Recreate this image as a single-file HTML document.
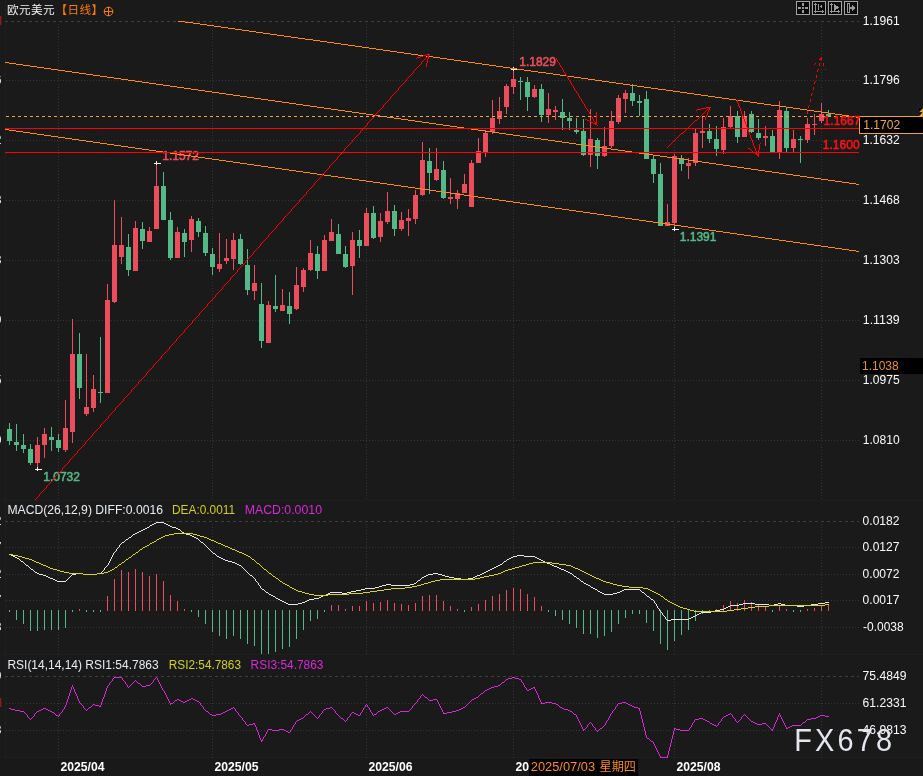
<!DOCTYPE html>
<html lang="zh"><head><meta charset="utf-8"><title>EURUSD</title>
<style>
html,body{margin:0;padding:0;background:#1a1a1a;}
body{width:923px;height:776px;overflow:hidden;position:relative;}
svg{position:absolute;left:0;top:0;display:block;}
text{font-family:"Liberation Sans", "Noto Sans CJK SC", sans-serif;font-size:12px;}
.b{font-weight:bold;}
.ce{shape-rendering:crispEdges;}
</style></head><body>
<svg width="923" height="776" viewBox="0 0 923 776">
<rect x="0" y="0" width="923" height="776" fill="#1a1a1a"/>
<rect x="5" y="0" width="1" height="758" fill="#1f1f1f"/>
<rect x="0" y="758" width="923" height="18" fill="#191919"/>
<rect x="0" y="500" width="923" height="1" fill="#1e1e1e"/>
<rect x="0" y="654" width="923" height="1" fill="#1e1e1e"/>
<rect x="0" y="757" width="923" height="1" fill="#1e1e1e"/>
<g class="ce" fill="none" stroke-width="1">
<line x1="5" y1="21.5" x2="859" y2="21.5" stroke="#3e3e3e" stroke-dasharray="3 3"/>
<line x1="6" y1="80.5" x2="859" y2="80.5" stroke="#353535" stroke-dasharray="1 2"/>
<line x1="6" y1="140.5" x2="859" y2="140.5" stroke="#353535" stroke-dasharray="1 2"/>
<line x1="6" y1="200.5" x2="859" y2="200.5" stroke="#353535" stroke-dasharray="1 2"/>
<line x1="6" y1="260.5" x2="859" y2="260.5" stroke="#353535" stroke-dasharray="1 2"/>
<line x1="6" y1="320.5" x2="859" y2="320.5" stroke="#353535" stroke-dasharray="1 2"/>
<line x1="6" y1="380.5" x2="859" y2="380.5" stroke="#353535" stroke-dasharray="1 2"/>
<line x1="6" y1="440.5" x2="859" y2="440.5" stroke="#353535" stroke-dasharray="1 2"/>
<line x1="5" y1="521.5" x2="859" y2="521.5" stroke="#3e3e3e" stroke-dasharray="3 3"/>
<line x1="6" y1="547.5" x2="859" y2="547.5" stroke="#353535" stroke-dasharray="1 2"/>
<line x1="6" y1="574.5" x2="859" y2="574.5" stroke="#353535" stroke-dasharray="1 2"/>
<line x1="6" y1="600.5" x2="859" y2="600.5" stroke="#353535" stroke-dasharray="1 2"/>
<line x1="6" y1="627.5" x2="859" y2="627.5" stroke="#353535" stroke-dasharray="1 2"/>
<line x1="5" y1="676.5" x2="859" y2="676.5" stroke="#3e3e3e" stroke-dasharray="3 3"/>
<line x1="6" y1="703.5" x2="859" y2="703.5" stroke="#353535" stroke-dasharray="1 2"/>
<line x1="6" y1="730.5" x2="859" y2="730.5" stroke="#353535" stroke-dasharray="1 2"/>
<line x1="58.5" y1="24" x2="58.5" y2="500" stroke="#353535" stroke-dasharray="1 2"/>
<line x1="58.5" y1="524" x2="58.5" y2="654" stroke="#353535" stroke-dasharray="1 2"/>
<line x1="58.5" y1="679" x2="58.5" y2="758" stroke="#353535" stroke-dasharray="1 2"/>
<line x1="212.5" y1="24" x2="212.5" y2="500" stroke="#353535" stroke-dasharray="1 2"/>
<line x1="212.5" y1="524" x2="212.5" y2="654" stroke="#353535" stroke-dasharray="1 2"/>
<line x1="212.5" y1="679" x2="212.5" y2="758" stroke="#353535" stroke-dasharray="1 2"/>
<line x1="366.5" y1="24" x2="366.5" y2="500" stroke="#353535" stroke-dasharray="1 2"/>
<line x1="366.5" y1="524" x2="366.5" y2="654" stroke="#353535" stroke-dasharray="1 2"/>
<line x1="366.5" y1="679" x2="366.5" y2="758" stroke="#353535" stroke-dasharray="1 2"/>
<line x1="513.5" y1="24" x2="513.5" y2="500" stroke="#353535" stroke-dasharray="1 2"/>
<line x1="513.5" y1="524" x2="513.5" y2="654" stroke="#353535" stroke-dasharray="1 2"/>
<line x1="513.5" y1="679" x2="513.5" y2="758" stroke="#353535" stroke-dasharray="1 2"/>
<line x1="674.5" y1="24" x2="674.5" y2="500" stroke="#353535" stroke-dasharray="1 2"/>
<line x1="674.5" y1="524" x2="674.5" y2="654" stroke="#353535" stroke-dasharray="1 2"/>
<line x1="674.5" y1="679" x2="674.5" y2="758" stroke="#353535" stroke-dasharray="1 2"/>
<line x1="821.5" y1="24" x2="821.5" y2="500" stroke="#353535" stroke-dasharray="1 2"/>
<line x1="821.5" y1="524" x2="821.5" y2="654" stroke="#353535" stroke-dasharray="1 2"/>
<line x1="821.5" y1="679" x2="821.5" y2="758" stroke="#353535" stroke-dasharray="1 2"/>
</g>
<g class="ce">
<rect x="9" y="423" width="1" height="22" fill="#53b987"/>
<rect x="7" y="429" width="5" height="12" fill="#53b987"/>
<rect x="16" y="424" width="1" height="27" fill="#53b987"/>
<rect x="14" y="442" width="5" height="3" fill="#53b987"/>
<rect x="23" y="434" width="1" height="19" fill="#53b987"/>
<rect x="21" y="445" width="5" height="4" fill="#53b987"/>
<rect x="30" y="444" width="1" height="21" fill="#53b987"/>
<rect x="28" y="449" width="5" height="14" fill="#53b987"/>
<rect x="37" y="437" width="1" height="33" fill="#eb4d5c"/>
<rect x="35" y="445" width="5" height="18" fill="#eb4d5c"/>
<rect x="44" y="428" width="1" height="30" fill="#eb4d5c"/>
<rect x="42" y="434" width="5" height="11" fill="#eb4d5c"/>
<rect x="51" y="427" width="1" height="24" fill="#53b987"/>
<rect x="49" y="437" width="5" height="3" fill="#53b987"/>
<rect x="58" y="434" width="1" height="18" fill="#53b987"/>
<rect x="56" y="440" width="5" height="8" fill="#53b987"/>
<rect x="65" y="400" width="1" height="52" fill="#eb4d5c"/>
<rect x="63" y="428" width="5" height="22" fill="#eb4d5c"/>
<rect x="72" y="319" width="1" height="124" fill="#eb4d5c"/>
<rect x="70" y="354" width="5" height="78" fill="#eb4d5c"/>
<rect x="79" y="333" width="1" height="66" fill="#53b987"/>
<rect x="77" y="354" width="5" height="34" fill="#53b987"/>
<rect x="86" y="354" width="1" height="62" fill="#eb4d5c"/>
<rect x="84" y="407" width="5" height="7" fill="#eb4d5c"/>
<rect x="93" y="375" width="1" height="37" fill="#eb4d5c"/>
<rect x="91" y="389" width="5" height="19" fill="#eb4d5c"/>
<rect x="100" y="337" width="1" height="66" fill="#53b987"/>
<rect x="98" y="392" width="5" height="1" fill="#53b987"/>
<rect x="107" y="284" width="1" height="109" fill="#eb4d5c"/>
<rect x="105" y="300" width="5" height="93" fill="#eb4d5c"/>
<rect x="114" y="200" width="1" height="103" fill="#eb4d5c"/>
<rect x="112" y="245" width="5" height="57" fill="#eb4d5c"/>
<rect x="121" y="217" width="1" height="47" fill="#eb4d5c"/>
<rect x="119" y="245" width="5" height="12" fill="#eb4d5c"/>
<rect x="128" y="234" width="1" height="42" fill="#53b987"/>
<rect x="126" y="247" width="5" height="23" fill="#53b987"/>
<rect x="135" y="221" width="1" height="50" fill="#eb4d5c"/>
<rect x="133" y="228" width="5" height="43" fill="#eb4d5c"/>
<rect x="142" y="222" width="1" height="27" fill="#53b987"/>
<rect x="140" y="229" width="5" height="12" fill="#53b987"/>
<rect x="149" y="227" width="1" height="15" fill="#eb4d5c"/>
<rect x="147" y="231" width="5" height="11" fill="#eb4d5c"/>
<rect x="156" y="164" width="1" height="65" fill="#eb4d5c"/>
<rect x="154" y="186" width="5" height="43" fill="#eb4d5c"/>
<rect x="163" y="172" width="1" height="48" fill="#53b987"/>
<rect x="161" y="186" width="5" height="34" fill="#53b987"/>
<rect x="170" y="212" width="1" height="48" fill="#53b987"/>
<rect x="168" y="220" width="5" height="38" fill="#53b987"/>
<rect x="177" y="227" width="1" height="31" fill="#eb4d5c"/>
<rect x="175" y="232" width="5" height="26" fill="#eb4d5c"/>
<rect x="184" y="229" width="1" height="28" fill="#53b987"/>
<rect x="182" y="233" width="5" height="9" fill="#53b987"/>
<rect x="191" y="216" width="1" height="36" fill="#eb4d5c"/>
<rect x="189" y="219" width="5" height="21" fill="#eb4d5c"/>
<rect x="198" y="218" width="1" height="19" fill="#53b987"/>
<rect x="196" y="221" width="5" height="11" fill="#53b987"/>
<rect x="205" y="226" width="1" height="30" fill="#53b987"/>
<rect x="203" y="233" width="5" height="20" fill="#53b987"/>
<rect x="212" y="248" width="1" height="27" fill="#53b987"/>
<rect x="210" y="254" width="5" height="13" fill="#53b987"/>
<rect x="219" y="233" width="1" height="39" fill="#eb4d5c"/>
<rect x="217" y="264" width="5" height="5" fill="#eb4d5c"/>
<rect x="226" y="239" width="1" height="25" fill="#eb4d5c"/>
<rect x="224" y="258" width="5" height="3" fill="#eb4d5c"/>
<rect x="233" y="233" width="1" height="37" fill="#eb4d5c"/>
<rect x="231" y="240" width="5" height="19" fill="#eb4d5c"/>
<rect x="240" y="234" width="1" height="31" fill="#53b987"/>
<rect x="238" y="239" width="5" height="25" fill="#53b987"/>
<rect x="247" y="249" width="1" height="46" fill="#53b987"/>
<rect x="245" y="265" width="5" height="25" fill="#53b987"/>
<rect x="254" y="265" width="1" height="35" fill="#eb4d5c"/>
<rect x="252" y="283" width="5" height="8" fill="#eb4d5c"/>
<rect x="261" y="283" width="1" height="65" fill="#53b987"/>
<rect x="259" y="304" width="5" height="37" fill="#53b987"/>
<rect x="268" y="301" width="1" height="42" fill="#eb4d5c"/>
<rect x="266" y="305" width="5" height="38" fill="#eb4d5c"/>
<rect x="275" y="275" width="1" height="37" fill="#53b987"/>
<rect x="273" y="306" width="5" height="3" fill="#53b987"/>
<rect x="282" y="289" width="1" height="22" fill="#eb4d5c"/>
<rect x="280" y="305" width="5" height="6" fill="#eb4d5c"/>
<rect x="289" y="292" width="1" height="32" fill="#53b987"/>
<rect x="287" y="306" width="5" height="8" fill="#53b987"/>
<rect x="296" y="267" width="1" height="43" fill="#eb4d5c"/>
<rect x="294" y="285" width="5" height="24" fill="#eb4d5c"/>
<rect x="303" y="268" width="1" height="24" fill="#eb4d5c"/>
<rect x="301" y="270" width="5" height="17" fill="#eb4d5c"/>
<rect x="310" y="240" width="1" height="31" fill="#eb4d5c"/>
<rect x="308" y="253" width="5" height="17" fill="#eb4d5c"/>
<rect x="317" y="246" width="1" height="33" fill="#53b987"/>
<rect x="315" y="254" width="5" height="17" fill="#53b987"/>
<rect x="324" y="235" width="1" height="36" fill="#eb4d5c"/>
<rect x="322" y="240" width="5" height="31" fill="#eb4d5c"/>
<rect x="331" y="219" width="1" height="22" fill="#eb4d5c"/>
<rect x="329" y="232" width="5" height="9" fill="#eb4d5c"/>
<rect x="338" y="224" width="1" height="30" fill="#53b987"/>
<rect x="336" y="234" width="5" height="20" fill="#53b987"/>
<rect x="345" y="246" width="1" height="22" fill="#53b987"/>
<rect x="343" y="254" width="5" height="13" fill="#53b987"/>
<rect x="352" y="232" width="1" height="63" fill="#eb4d5c"/>
<rect x="350" y="240" width="5" height="26" fill="#eb4d5c"/>
<rect x="359" y="230" width="1" height="28" fill="#53b987"/>
<rect x="357" y="240" width="5" height="6" fill="#53b987"/>
<rect x="366" y="208" width="1" height="38" fill="#eb4d5c"/>
<rect x="364" y="213" width="5" height="33" fill="#eb4d5c"/>
<rect x="373" y="206" width="1" height="33" fill="#53b987"/>
<rect x="371" y="213" width="5" height="25" fill="#53b987"/>
<rect x="380" y="213" width="1" height="29" fill="#eb4d5c"/>
<rect x="378" y="221" width="5" height="16" fill="#eb4d5c"/>
<rect x="387" y="192" width="1" height="32" fill="#eb4d5c"/>
<rect x="385" y="211" width="5" height="11" fill="#eb4d5c"/>
<rect x="394" y="205" width="1" height="31" fill="#53b987"/>
<rect x="392" y="211" width="5" height="18" fill="#53b987"/>
<rect x="401" y="212" width="1" height="19" fill="#eb4d5c"/>
<rect x="399" y="220" width="5" height="9" fill="#eb4d5c"/>
<rect x="408" y="209" width="1" height="27" fill="#eb4d5c"/>
<rect x="406" y="218" width="5" height="3" fill="#eb4d5c"/>
<rect x="415" y="190" width="1" height="34" fill="#eb4d5c"/>
<rect x="413" y="195" width="5" height="24" fill="#eb4d5c"/>
<rect x="422" y="142" width="1" height="54" fill="#eb4d5c"/>
<rect x="420" y="160" width="5" height="35" fill="#eb4d5c"/>
<rect x="429" y="148" width="1" height="46" fill="#53b987"/>
<rect x="427" y="161" width="5" height="12" fill="#53b987"/>
<rect x="436" y="148" width="1" height="33" fill="#eb4d5c"/>
<rect x="434" y="169" width="5" height="11" fill="#eb4d5c"/>
<rect x="443" y="161" width="1" height="38" fill="#53b987"/>
<rect x="441" y="170" width="5" height="28" fill="#53b987"/>
<rect x="450" y="178" width="1" height="26" fill="#eb4d5c"/>
<rect x="448" y="197" width="5" height="2" fill="#eb4d5c"/>
<rect x="457" y="190" width="1" height="19" fill="#eb4d5c"/>
<rect x="455" y="193" width="5" height="6" fill="#eb4d5c"/>
<rect x="464" y="174" width="1" height="19" fill="#eb4d5c"/>
<rect x="462" y="184" width="5" height="9" fill="#eb4d5c"/>
<rect x="471" y="160" width="1" height="47" fill="#eb4d5c"/>
<rect x="469" y="163" width="5" height="44" fill="#eb4d5c"/>
<rect x="478" y="138" width="1" height="25" fill="#eb4d5c"/>
<rect x="476" y="151" width="5" height="12" fill="#eb4d5c"/>
<rect x="485" y="130" width="1" height="27" fill="#eb4d5c"/>
<rect x="483" y="133" width="5" height="19" fill="#eb4d5c"/>
<rect x="492" y="100" width="1" height="34" fill="#eb4d5c"/>
<rect x="490" y="118" width="5" height="14" fill="#eb4d5c"/>
<rect x="499" y="97" width="1" height="27" fill="#eb4d5c"/>
<rect x="497" y="111" width="5" height="8" fill="#eb4d5c"/>
<rect x="506" y="84" width="1" height="30" fill="#eb4d5c"/>
<rect x="504" y="86" width="5" height="21" fill="#eb4d5c"/>
<rect x="513" y="69" width="1" height="25" fill="#eb4d5c"/>
<rect x="511" y="79" width="5" height="8" fill="#eb4d5c"/>
<rect x="520" y="77" width="1" height="23" fill="#53b987"/>
<rect x="518" y="81" width="5" height="1" fill="#53b987"/>
<rect x="527" y="77" width="1" height="34" fill="#53b987"/>
<rect x="525" y="82" width="5" height="15" fill="#53b987"/>
<rect x="534" y="85" width="1" height="13" fill="#eb4d5c"/>
<rect x="532" y="89" width="5" height="8" fill="#eb4d5c"/>
<rect x="541" y="84" width="1" height="38" fill="#53b987"/>
<rect x="539" y="89" width="5" height="26" fill="#53b987"/>
<rect x="548" y="93" width="1" height="30" fill="#eb4d5c"/>
<rect x="546" y="109" width="5" height="6" fill="#eb4d5c"/>
<rect x="555" y="106" width="1" height="14" fill="#eb4d5c"/>
<rect x="553" y="110" width="5" height="2" fill="#eb4d5c"/>
<rect x="562" y="99" width="1" height="31" fill="#53b987"/>
<rect x="560" y="112" width="5" height="6" fill="#53b987"/>
<rect x="569" y="112" width="1" height="18" fill="#53b987"/>
<rect x="567" y="118" width="5" height="3" fill="#53b987"/>
<rect x="576" y="118" width="1" height="16" fill="#53b987"/>
<rect x="574" y="130" width="5" height="2" fill="#53b987"/>
<rect x="583" y="119" width="1" height="37" fill="#53b987"/>
<rect x="581" y="131" width="5" height="24" fill="#53b987"/>
<rect x="590" y="109" width="1" height="58" fill="#eb4d5c"/>
<rect x="588" y="139" width="5" height="16" fill="#eb4d5c"/>
<rect x="597" y="138" width="1" height="31" fill="#53b987"/>
<rect x="595" y="140" width="5" height="16" fill="#53b987"/>
<rect x="604" y="127" width="1" height="30" fill="#eb4d5c"/>
<rect x="602" y="146" width="5" height="10" fill="#eb4d5c"/>
<rect x="611" y="111" width="1" height="37" fill="#eb4d5c"/>
<rect x="609" y="121" width="5" height="25" fill="#eb4d5c"/>
<rect x="618" y="95" width="1" height="29" fill="#eb4d5c"/>
<rect x="616" y="98" width="5" height="24" fill="#eb4d5c"/>
<rect x="625" y="90" width="1" height="23" fill="#eb4d5c"/>
<rect x="623" y="93" width="5" height="6" fill="#eb4d5c"/>
<rect x="632" y="84" width="1" height="22" fill="#53b987"/>
<rect x="630" y="93" width="5" height="8" fill="#53b987"/>
<rect x="639" y="95" width="1" height="21" fill="#53b987"/>
<rect x="637" y="101" width="5" height="2" fill="#53b987"/>
<rect x="646" y="91" width="1" height="68" fill="#53b987"/>
<rect x="644" y="99" width="5" height="60" fill="#53b987"/>
<rect x="653" y="155" width="1" height="28" fill="#53b987"/>
<rect x="651" y="159" width="5" height="15" fill="#53b987"/>
<rect x="660" y="163" width="1" height="63" fill="#53b987"/>
<rect x="658" y="174" width="5" height="52" fill="#53b987"/>
<rect x="667" y="204" width="1" height="22" fill="#eb4d5c"/>
<rect x="665" y="222" width="5" height="4" fill="#eb4d5c"/>
<rect x="674" y="154" width="1" height="75" fill="#eb4d5c"/>
<rect x="672" y="156" width="5" height="67" fill="#eb4d5c"/>
<rect x="681" y="155" width="1" height="16" fill="#53b987"/>
<rect x="679" y="158" width="5" height="6" fill="#53b987"/>
<rect x="688" y="158" width="1" height="21" fill="#eb4d5c"/>
<rect x="686" y="163" width="5" height="3" fill="#eb4d5c"/>
<rect x="695" y="129" width="1" height="37" fill="#eb4d5c"/>
<rect x="693" y="133" width="5" height="30" fill="#eb4d5c"/>
<rect x="702" y="116" width="1" height="32" fill="#eb4d5c"/>
<rect x="700" y="131" width="5" height="2" fill="#eb4d5c"/>
<rect x="709" y="124" width="1" height="19" fill="#53b987"/>
<rect x="707" y="131" width="5" height="8" fill="#53b987"/>
<rect x="716" y="126" width="1" height="30" fill="#53b987"/>
<rect x="714" y="139" width="5" height="10" fill="#53b987"/>
<rect x="723" y="118" width="1" height="36" fill="#eb4d5c"/>
<rect x="721" y="127" width="5" height="23" fill="#eb4d5c"/>
<rect x="730" y="106" width="1" height="22" fill="#eb4d5c"/>
<rect x="728" y="116" width="5" height="11" fill="#eb4d5c"/>
<rect x="737" y="111" width="1" height="32" fill="#53b987"/>
<rect x="735" y="116" width="5" height="21" fill="#53b987"/>
<rect x="744" y="111" width="1" height="26" fill="#eb4d5c"/>
<rect x="742" y="116" width="5" height="21" fill="#eb4d5c"/>
<rect x="751" y="111" width="1" height="22" fill="#53b987"/>
<rect x="749" y="114" width="5" height="18" fill="#53b987"/>
<rect x="758" y="119" width="1" height="21" fill="#53b987"/>
<rect x="756" y="133" width="5" height="5" fill="#53b987"/>
<rect x="765" y="126" width="1" height="20" fill="#eb4d5c"/>
<rect x="763" y="136" width="5" height="2" fill="#eb4d5c"/>
<rect x="772" y="130" width="1" height="22" fill="#53b987"/>
<rect x="770" y="136" width="5" height="16" fill="#53b987"/>
<rect x="779" y="101" width="1" height="58" fill="#eb4d5c"/>
<rect x="777" y="110" width="5" height="42" fill="#eb4d5c"/>
<rect x="786" y="108" width="1" height="44" fill="#53b987"/>
<rect x="784" y="111" width="5" height="37" fill="#53b987"/>
<rect x="793" y="130" width="1" height="22" fill="#eb4d5c"/>
<rect x="791" y="139" width="5" height="9" fill="#eb4d5c"/>
<rect x="800" y="136" width="1" height="27" fill="#53b987"/>
<rect x="798" y="139" width="5" height="1" fill="#53b987"/>
<rect x="807" y="118" width="1" height="25" fill="#eb4d5c"/>
<rect x="805" y="124" width="5" height="16" fill="#eb4d5c"/>
<rect x="814" y="114" width="1" height="21" fill="#eb4d5c"/>
<rect x="812" y="124" width="5" height="1" fill="#eb4d5c"/>
<rect x="821" y="103" width="1" height="20" fill="#eb4d5c"/>
<rect x="819" y="114" width="5" height="7" fill="#eb4d5c"/>
<rect x="828" y="110" width="1" height="7" fill="#53b987"/>
<rect x="826" y="114" width="5" height="3" fill="#53b987"/>
</g>
<g class="ce" fill="#f4f4f4">
<rect x="154" y="163" width="7" height="1"/>
<rect x="156" y="161" width="1" height="4"/>
<rect x="35" y="469" width="7" height="1"/>
<rect x="37" y="467" width="1" height="4"/>
<rect x="511" y="69" width="7" height="1"/>
<rect x="513" y="67" width="1" height="4"/>
<rect x="672" y="229" width="7" height="1"/>
<rect x="674" y="227" width="1" height="4"/>
</g>
<text x="519.2" y="66" fill="#eb4d5c" stroke="#eb4d5c" stroke-width="0.55" stroke-linejoin="round" textLength="36.8" lengthAdjust="spacing">1.1829</text>
<text x="162.2" y="160.3" fill="#eb4d5c" stroke="#eb4d5c" stroke-width="0.55" stroke-linejoin="round" textLength="36.8" lengthAdjust="spacing">1.1572</text>
<text x="43.2" y="481" fill="#53b987" stroke="#53b987" stroke-width="0.55" stroke-linejoin="round" textLength="36.8" lengthAdjust="spacing">1.0732</text>
<text x="679.7" y="241" fill="#53b987" stroke="#53b987" stroke-width="0.55" stroke-linejoin="round" textLength="36.8" lengthAdjust="spacing">1.1391</text>
<g class="ce" fill="none" stroke-width="1">
<path d="M178 21h7v1h-7zM185 22h8v1h-8zM193 23h7v1h-7zM200 24h7v1h-7zM207 25h7v1h-7zM214 26h7v1h-7zM221 27h7v1h-7zM228 28h7v1h-7zM235 29h7v1h-7zM242 30h7v1h-7zM249 31h7v1h-7zM256 32h7v1h-7zM263 33h7v1h-7zM270 34h7v1h-7zM277 35h7v1h-7zM284 36h7v1h-7zM291 37h7v1h-7zM298 38h7v1h-7zM305 39h8v1h-8zM313 40h7v1h-7zM320 41h7v1h-7zM327 42h7v1h-7zM334 43h7v1h-7zM341 44h7v1h-7zM348 45h7v1h-7zM355 46h7v1h-7zM362 47h7v1h-7zM369 48h7v1h-7zM376 49h7v1h-7zM383 50h7v1h-7zM390 51h7v1h-7zM397 52h7v1h-7zM404 53h7v1h-7zM411 54h7v1h-7zM418 55h8v1h-8zM426 56h7v1h-7zM433 57h7v1h-7zM440 58h7v1h-7zM447 59h7v1h-7zM454 60h7v1h-7zM461 61h7v1h-7zM468 62h7v1h-7zM475 63h7v1h-7zM482 64h7v1h-7zM489 65h7v1h-7zM496 66h7v1h-7zM503 67h7v1h-7zM510 68h7v1h-7zM517 69h7v1h-7zM524 70h7v1h-7zM531 71h7v1h-7zM538 72h8v1h-8zM546 73h7v1h-7zM553 74h7v1h-7zM560 75h7v1h-7zM567 76h7v1h-7zM574 77h7v1h-7zM581 78h7v1h-7zM588 79h7v1h-7zM595 80h7v1h-7zM602 81h7v1h-7zM609 82h7v1h-7zM616 83h7v1h-7zM623 84h7v1h-7zM630 85h7v1h-7zM637 86h7v1h-7zM644 87h7v1h-7zM651 88h7v1h-7zM658 89h8v1h-8zM666 90h7v1h-7zM673 91h7v1h-7zM680 92h7v1h-7zM687 93h7v1h-7zM694 94h7v1h-7zM701 95h7v1h-7zM708 96h7v1h-7zM715 97h7v1h-7zM722 98h7v1h-7zM729 99h7v1h-7zM736 100h7v1h-7zM743 101h7v1h-7zM750 102h7v1h-7zM757 103h7v1h-7zM764 104h7v1h-7zM771 105h8v1h-8zM779 106h7v1h-7zM786 107h7v1h-7zM793 108h7v1h-7zM800 109h7v1h-7zM807 110h7v1h-7zM814 111h7v1h-7zM821 112h7v1h-7zM828 113h7v1h-7zM835 114h7v1h-7zM842 115h7v1h-7zM849 116h7v1h-7zM856 117h3v1h-3z" fill="#ff8c00"/>
<path d="M5 62h4v1h-4zM9 63h7v1h-7zM16 64h7v1h-7zM23 65h7v1h-7zM30 66h7v1h-7zM37 67h7v1h-7zM44 68h7v1h-7zM51 69h7v1h-7zM58 70h7v1h-7zM65 71h7v1h-7zM72 72h7v1h-7zM79 73h7v1h-7zM86 74h7v1h-7zM93 75h7v1h-7zM100 76h7v1h-7zM107 77h7v1h-7zM114 78h7v1h-7zM121 79h7v1h-7zM128 80h7v1h-7zM135 81h7v1h-7zM142 82h7v1h-7zM149 83h7v1h-7zM156 84h7v1h-7zM163 85h7v1h-7zM170 86h7v1h-7zM177 87h7v1h-7zM184 88h7v1h-7zM191 89h7v1h-7zM198 90h7v1h-7zM205 91h7v1h-7zM212 92h7v1h-7zM219 93h7v1h-7zM226 94h7v1h-7zM233 95h7v1h-7zM240 96h7v1h-7zM247 97h7v1h-7zM254 98h7v1h-7zM261 99h7v1h-7zM268 100h7v1h-7zM275 101h7v1h-7zM282 102h7v1h-7zM289 103h7v1h-7zM296 104h7v1h-7zM303 105h7v1h-7zM310 106h7v1h-7zM317 107h7v1h-7zM324 108h7v1h-7zM331 109h7v1h-7zM338 110h7v1h-7zM345 111h7v1h-7zM352 112h7v1h-7zM359 113h7v1h-7zM366 114h7v1h-7zM373 115h7v1h-7zM380 116h7v1h-7zM387 117h7v1h-7zM394 118h7v1h-7zM401 119h7v1h-7zM408 120h7v1h-7zM415 121h7v1h-7zM422 122h7v1h-7zM429 123h7v1h-7zM436 124h7v1h-7zM443 125h7v1h-7zM450 126h7v1h-7zM457 127h7v1h-7zM464 128h7v1h-7zM471 129h7v1h-7zM478 130h7v1h-7zM485 131h7v1h-7zM492 132h7v1h-7zM499 133h7v1h-7zM506 134h7v1h-7zM513 135h7v1h-7zM520 136h7v1h-7zM527 137h7v1h-7zM534 138h7v1h-7zM541 139h7v1h-7zM548 140h7v1h-7zM555 141h7v1h-7zM562 142h7v1h-7zM569 143h7v1h-7zM576 144h7v1h-7zM583 145h7v1h-7zM590 146h7v1h-7zM597 147h7v1h-7zM604 148h7v1h-7zM611 149h7v1h-7zM618 150h7v1h-7zM625 151h7v1h-7zM632 152h7v1h-7zM639 153h7v1h-7zM646 154h7v1h-7zM653 155h7v1h-7zM660 156h7v1h-7zM667 157h7v1h-7zM674 158h7v1h-7zM681 159h7v1h-7zM688 160h7v1h-7zM695 161h7v1h-7zM702 162h7v1h-7zM709 163h7v1h-7zM716 164h7v1h-7zM723 165h7v1h-7zM730 166h7v1h-7zM737 167h7v1h-7zM744 168h7v1h-7zM751 169h7v1h-7zM758 170h7v1h-7zM765 171h7v1h-7zM772 172h7v1h-7zM779 173h7v1h-7zM786 174h7v1h-7zM793 175h7v1h-7zM800 176h7v1h-7zM807 177h7v1h-7zM814 178h7v1h-7zM821 179h7v1h-7zM828 180h7v1h-7zM835 181h7v1h-7zM842 182h7v1h-7zM849 183h7v1h-7zM856 184h3v1h-3z" fill="#ff8c00"/>
<path d="M5 129h4v1h-4zM9 130h7v1h-7zM16 131h7v1h-7zM23 132h7v1h-7zM30 133h7v1h-7zM37 134h7v1h-7zM44 135h7v1h-7zM51 136h7v1h-7zM58 137h7v1h-7zM65 138h7v1h-7zM72 139h7v1h-7zM79 140h7v1h-7zM86 141h7v1h-7zM93 142h7v1h-7zM100 143h7v1h-7zM107 144h7v1h-7zM114 145h7v1h-7zM121 146h7v1h-7zM128 147h7v1h-7zM135 148h7v1h-7zM142 149h7v1h-7zM149 150h7v1h-7zM156 151h7v1h-7zM163 152h7v1h-7zM170 153h7v1h-7zM177 154h7v1h-7zM184 155h7v1h-7zM191 156h7v1h-7zM198 157h7v1h-7zM205 158h7v1h-7zM212 159h7v1h-7zM219 160h7v1h-7zM226 161h7v1h-7zM233 162h7v1h-7zM240 163h7v1h-7zM247 164h7v1h-7zM254 165h7v1h-7zM261 166h7v1h-7zM268 167h7v1h-7zM275 168h7v1h-7zM282 169h7v1h-7zM289 170h7v1h-7zM296 171h7v1h-7zM303 172h7v1h-7zM310 173h7v1h-7zM317 174h7v1h-7zM324 175h7v1h-7zM331 176h7v1h-7zM338 177h7v1h-7zM345 178h7v1h-7zM352 179h7v1h-7zM359 180h7v1h-7zM366 181h7v1h-7zM373 182h7v1h-7zM380 183h7v1h-7zM387 184h7v1h-7zM394 185h7v1h-7zM401 186h7v1h-7zM408 187h7v1h-7zM415 188h7v1h-7zM422 189h7v1h-7zM429 190h7v1h-7zM436 191h7v1h-7zM443 192h7v1h-7zM450 193h7v1h-7zM457 194h7v1h-7zM464 195h7v1h-7zM471 196h7v1h-7zM478 197h7v1h-7zM485 198h7v1h-7zM492 199h7v1h-7zM499 200h7v1h-7zM506 201h7v1h-7zM513 202h7v1h-7zM520 203h7v1h-7zM527 204h7v1h-7zM534 205h7v1h-7zM541 206h7v1h-7zM548 207h7v1h-7zM555 208h7v1h-7zM562 209h7v1h-7zM569 210h7v1h-7zM576 211h7v1h-7zM583 212h7v1h-7zM590 213h7v1h-7zM597 214h7v1h-7zM604 215h7v1h-7zM611 216h7v1h-7zM618 217h7v1h-7zM625 218h7v1h-7zM632 219h7v1h-7zM639 220h7v1h-7zM646 221h7v1h-7zM653 222h7v1h-7zM660 223h7v1h-7zM667 224h7v1h-7zM674 225h7v1h-7zM681 226h7v1h-7zM688 227h7v1h-7zM695 228h7v1h-7zM702 229h7v1h-7zM709 230h7v1h-7zM716 231h7v1h-7zM723 232h7v1h-7zM730 233h7v1h-7zM737 234h7v1h-7zM744 235h7v1h-7zM751 236h7v1h-7zM758 237h7v1h-7zM765 238h7v1h-7zM772 239h7v1h-7zM779 240h7v1h-7zM786 241h7v1h-7zM793 242h7v1h-7zM800 243h7v1h-7zM807 244h7v1h-7zM814 245h7v1h-7zM821 246h7v1h-7zM828 247h7v1h-7zM835 248h7v1h-7zM842 249h7v1h-7zM849 250h7v1h-7zM856 251h3v1h-3z" fill="#ff8c00"/>
<line x1="6" y1="116.5" x2="859" y2="116.5" stroke="#f0a63c" stroke-dasharray="3 3"/>
<line x1="5" y1="128.5" x2="859" y2="128.5" stroke="#ff0000"/>
<line x1="5" y1="152.5" x2="859" y2="152.5" stroke="#ff0000"/>
</g>
<g class="ce">
<path d="M429 54h1v1h-1zM428 55h1v1h-1zM427 56h1v1h-1zM426 57h1v1h-1zM425 58h1v1h-1zM424 59h1v1h-1zM423 60h1v1h-1zM422 61h1v1h-1zM421 62h1v1h-1zM421 63h1v1h-1zM420 64h1v1h-1zM419 65h1v1h-1zM418 66h1v1h-1zM417 67h1v1h-1zM416 68h1v1h-1zM415 69h1v1h-1zM414 70h1v1h-1zM413 71h1v1h-1zM413 72h1v1h-1zM412 73h1v1h-1zM411 74h1v1h-1zM410 75h1v1h-1zM409 76h1v1h-1zM408 77h1v1h-1zM407 78h1v1h-1zM406 79h1v1h-1zM406 80h1v1h-1zM405 81h1v1h-1zM404 82h1v1h-1zM403 83h1v1h-1zM402 84h1v1h-1zM401 85h1v1h-1zM400 86h1v1h-1zM399 87h1v1h-1zM398 88h1v1h-1zM398 89h1v1h-1zM397 90h1v1h-1zM396 91h1v1h-1zM395 92h1v1h-1zM394 93h1v1h-1zM393 94h1v1h-1zM392 95h1v1h-1zM391 96h1v1h-1zM390 97h1v1h-1zM390 98h1v1h-1zM389 99h1v1h-1zM388 100h1v1h-1zM387 101h1v1h-1zM386 102h1v1h-1zM385 103h1v1h-1zM384 104h1v1h-1zM383 105h1v1h-1zM383 106h1v1h-1zM382 107h1v1h-1zM381 108h1v1h-1zM380 109h1v1h-1zM379 110h1v1h-1zM378 111h1v1h-1zM377 112h1v1h-1zM376 113h1v1h-1zM375 114h1v1h-1zM375 115h1v1h-1zM374 116h1v1h-1zM373 117h1v1h-1zM372 118h1v1h-1zM371 119h1v1h-1zM370 120h1v1h-1zM369 121h1v1h-1zM368 122h1v1h-1zM367 123h1v1h-1zM367 124h1v1h-1zM366 125h1v1h-1zM365 126h1v1h-1zM364 127h1v1h-1zM363 128h1v1h-1zM362 129h1v1h-1zM361 130h1v1h-1zM360 131h1v1h-1zM360 132h1v1h-1zM359 133h1v1h-1zM358 134h1v1h-1zM357 135h1v1h-1zM356 136h1v1h-1zM355 137h1v1h-1zM354 138h1v1h-1zM353 139h1v1h-1zM352 140h1v1h-1zM352 141h1v1h-1zM351 142h1v1h-1zM350 143h1v1h-1zM349 144h1v1h-1zM348 145h1v1h-1zM347 146h1v1h-1zM346 147h1v1h-1zM345 148h1v1h-1zM344 149h1v1h-1zM344 150h1v1h-1zM343 151h1v1h-1zM342 152h1v1h-1zM341 153h1v1h-1zM340 154h1v1h-1zM339 155h1v1h-1zM338 156h1v1h-1zM337 157h1v1h-1zM337 158h1v1h-1zM336 159h1v1h-1zM335 160h1v1h-1zM334 161h1v1h-1zM333 162h1v1h-1zM332 163h1v1h-1zM331 164h1v1h-1zM330 165h1v1h-1zM329 166h1v1h-1zM329 167h1v1h-1zM328 168h1v1h-1zM327 169h1v1h-1zM326 170h1v1h-1zM325 171h1v1h-1zM324 172h1v1h-1zM323 173h1v1h-1zM322 174h1v1h-1zM322 175h1v1h-1zM321 176h1v1h-1zM320 177h1v1h-1zM319 178h1v1h-1zM318 179h1v1h-1zM317 180h1v1h-1zM316 181h1v1h-1zM315 182h1v1h-1zM314 183h1v1h-1zM314 184h1v1h-1zM313 185h1v1h-1zM312 186h1v1h-1zM311 187h1v1h-1zM310 188h1v1h-1zM309 189h1v1h-1zM308 190h1v1h-1zM307 191h1v1h-1zM306 192h1v1h-1zM306 193h1v1h-1zM305 194h1v1h-1zM304 195h1v1h-1zM303 196h1v1h-1zM302 197h1v1h-1zM301 198h1v1h-1zM300 199h1v1h-1zM299 200h1v1h-1zM299 201h1v1h-1zM298 202h1v1h-1zM297 203h1v1h-1zM296 204h1v1h-1zM295 205h1v1h-1zM294 206h1v1h-1zM293 207h1v1h-1zM292 208h1v1h-1zM291 209h1v1h-1zM291 210h1v1h-1zM290 211h1v1h-1zM289 212h1v1h-1zM288 213h1v1h-1zM287 214h1v1h-1zM286 215h1v1h-1zM285 216h1v1h-1zM284 217h1v1h-1zM283 218h1v1h-1zM283 219h1v1h-1zM282 220h1v1h-1zM281 221h1v1h-1zM280 222h1v1h-1zM279 223h1v1h-1zM278 224h1v1h-1zM277 225h1v1h-1zM276 226h1v1h-1zM276 227h1v1h-1zM275 228h1v1h-1zM274 229h1v1h-1zM273 230h1v1h-1zM272 231h1v1h-1zM271 232h1v1h-1zM270 233h1v1h-1zM269 234h1v1h-1zM268 235h1v1h-1zM268 236h1v1h-1zM267 237h1v1h-1zM266 238h1v1h-1zM265 239h1v1h-1zM264 240h1v1h-1zM263 241h1v1h-1zM262 242h1v1h-1zM261 243h1v1h-1zM260 244h1v1h-1zM260 245h1v1h-1zM259 246h1v1h-1zM258 247h1v1h-1zM257 248h1v1h-1zM256 249h1v1h-1zM255 250h1v1h-1zM254 251h1v1h-1zM253 252h1v1h-1zM253 253h1v1h-1zM252 254h1v1h-1zM251 255h1v1h-1zM250 256h1v1h-1zM249 257h1v1h-1zM248 258h1v1h-1zM247 259h1v1h-1zM246 260h1v1h-1zM245 261h1v1h-1zM245 262h1v1h-1zM244 263h1v1h-1zM243 264h1v1h-1zM242 265h1v1h-1zM241 266h1v1h-1zM240 267h1v1h-1zM239 268h1v1h-1zM238 269h1v1h-1zM237 270h1v1h-1zM237 271h1v1h-1zM236 272h1v1h-1zM235 273h1v1h-1zM234 274h1v1h-1zM233 275h1v1h-1zM232 276h1v1h-1zM231 277h1v1h-1zM230 278h1v1h-1zM230 279h1v1h-1zM229 280h1v1h-1zM228 281h1v1h-1zM227 282h1v1h-1zM226 283h1v1h-1zM225 284h1v1h-1zM224 285h1v1h-1zM223 286h1v1h-1zM222 287h1v1h-1zM222 288h1v1h-1zM221 289h1v1h-1zM220 290h1v1h-1zM219 291h1v1h-1zM218 292h1v1h-1zM217 293h1v1h-1zM216 294h1v1h-1zM215 295h1v1h-1zM215 296h1v1h-1zM214 297h1v1h-1zM213 298h1v1h-1zM212 299h1v1h-1zM211 300h1v1h-1zM210 301h1v1h-1zM209 302h1v1h-1zM208 303h1v1h-1zM207 304h1v1h-1zM207 305h1v1h-1zM206 306h1v1h-1zM205 307h1v1h-1zM204 308h1v1h-1zM203 309h1v1h-1zM202 310h1v1h-1zM201 311h1v1h-1zM200 312h1v1h-1zM199 313h1v1h-1zM199 314h1v1h-1zM198 315h1v1h-1zM197 316h1v1h-1zM196 317h1v1h-1zM195 318h1v1h-1zM194 319h1v1h-1zM193 320h1v1h-1zM192 321h1v1h-1zM192 322h1v1h-1zM191 323h1v1h-1zM190 324h1v1h-1zM189 325h1v1h-1zM188 326h1v1h-1zM187 327h1v1h-1zM186 328h1v1h-1zM185 329h1v1h-1zM184 330h1v1h-1zM184 331h1v1h-1zM183 332h1v1h-1zM182 333h1v1h-1zM181 334h1v1h-1zM180 335h1v1h-1zM179 336h1v1h-1zM178 337h1v1h-1zM177 338h1v1h-1zM176 339h1v1h-1zM176 340h1v1h-1zM175 341h1v1h-1zM174 342h1v1h-1zM173 343h1v1h-1zM172 344h1v1h-1zM171 345h1v1h-1zM170 346h1v1h-1zM169 347h1v1h-1zM169 348h1v1h-1zM168 349h1v1h-1zM167 350h1v1h-1zM166 351h1v1h-1zM165 352h1v1h-1zM164 353h1v1h-1zM163 354h1v1h-1zM162 355h1v1h-1zM161 356h1v1h-1zM161 357h1v1h-1zM160 358h1v1h-1zM159 359h1v1h-1zM158 360h1v1h-1zM157 361h1v1h-1zM156 362h1v1h-1zM155 363h1v1h-1zM154 364h1v1h-1zM153 365h1v1h-1zM153 366h1v1h-1zM152 367h1v1h-1zM151 368h1v1h-1zM150 369h1v1h-1zM149 370h1v1h-1zM148 371h1v1h-1zM147 372h1v1h-1zM146 373h1v1h-1zM146 374h1v1h-1zM145 375h1v1h-1zM144 376h1v1h-1zM143 377h1v1h-1zM142 378h1v1h-1zM141 379h1v1h-1zM140 380h1v1h-1zM139 381h1v1h-1zM138 382h1v1h-1zM138 383h1v1h-1zM137 384h1v1h-1zM136 385h1v1h-1zM135 386h1v1h-1zM134 387h1v1h-1zM133 388h1v1h-1zM132 389h1v1h-1zM131 390h1v1h-1zM131 391h1v1h-1zM130 392h1v1h-1zM129 393h1v1h-1zM128 394h1v1h-1zM127 395h1v1h-1zM126 396h1v1h-1zM125 397h1v1h-1zM124 398h1v1h-1zM123 399h1v1h-1zM123 400h1v1h-1zM122 401h1v1h-1zM121 402h1v1h-1zM120 403h1v1h-1zM119 404h1v1h-1zM118 405h1v1h-1zM117 406h1v1h-1zM116 407h1v1h-1zM115 408h1v1h-1zM115 409h1v1h-1zM114 410h1v1h-1zM113 411h1v1h-1zM112 412h1v1h-1zM111 413h1v1h-1zM110 414h1v1h-1zM109 415h1v1h-1zM108 416h1v1h-1zM108 417h1v1h-1zM107 418h1v1h-1zM106 419h1v1h-1zM105 420h1v1h-1zM104 421h1v1h-1zM103 422h1v1h-1zM102 423h1v1h-1zM101 424h1v1h-1zM100 425h1v1h-1zM100 426h1v1h-1zM99 427h1v1h-1zM98 428h1v1h-1zM97 429h1v1h-1zM96 430h1v1h-1zM95 431h1v1h-1zM94 432h1v1h-1zM93 433h1v1h-1zM92 434h1v1h-1zM92 435h1v1h-1zM91 436h1v1h-1zM90 437h1v1h-1zM89 438h1v1h-1zM88 439h1v1h-1zM87 440h1v1h-1zM86 441h1v1h-1zM85 442h1v1h-1zM85 443h1v1h-1zM84 444h1v1h-1zM83 445h1v1h-1zM82 446h1v1h-1zM81 447h1v1h-1zM80 448h1v1h-1zM79 449h1v1h-1zM78 450h1v1h-1zM77 451h1v1h-1zM77 452h1v1h-1zM76 453h1v1h-1zM75 454h1v1h-1zM74 455h1v1h-1zM73 456h1v1h-1zM72 457h1v1h-1zM71 458h1v1h-1zM70 459h1v1h-1zM69 460h1v1h-1zM69 461h1v1h-1zM68 462h1v1h-1zM67 463h1v1h-1zM66 464h1v1h-1zM65 465h1v1h-1zM64 466h1v1h-1zM63 467h1v1h-1zM62 468h1v1h-1zM62 469h1v1h-1zM61 470h1v1h-1zM60 471h1v1h-1zM59 472h1v1h-1zM58 473h1v1h-1zM57 474h1v1h-1zM56 475h1v1h-1zM55 476h1v1h-1zM54 477h1v1h-1zM54 478h1v1h-1zM53 479h1v1h-1zM52 480h1v1h-1zM51 481h1v1h-1zM50 482h1v1h-1zM49 483h1v1h-1zM48 484h1v1h-1zM47 485h1v1h-1zM46 486h1v1h-1zM46 487h1v1h-1zM45 488h1v1h-1zM44 489h1v1h-1zM43 490h1v1h-1zM42 491h1v1h-1zM41 492h1v1h-1zM40 493h1v1h-1zM39 494h1v1h-1zM39 495h1v1h-1zM38 496h1v1h-1zM37 497h1v1h-1zM36 498h1v1h-1zM35 499h1v1h-1z" fill="#ff0000"/>
<path d="M426 54h4v1h-4zM423 55h3v1h-3zM420 56h3v1h-3zM417 57h3v1h-3zM416 58h1v1h-1z" fill="#ff0000"/>
<path d="M429 54h1v1h-1zM428 55h1v1h-1zM428 56h1v1h-1zM428 57h1v1h-1zM428 58h1v1h-1zM427 59h1v1h-1zM427 60h1v1h-1zM427 61h1v1h-1zM427 62h1v1h-1zM426 63h1v1h-1zM426 64h1v1h-1zM426 65h1v1h-1zM426 66h1v1h-1z" fill="#ff0000"/>
<path d="M556 58h1v1h-1zM556 59h1v1h-1zM557 60h1v1h-1zM557 61h1v1h-1zM558 62h1v1h-1zM559 63h1v1h-1zM559 64h1v1h-1zM560 65h1v1h-1zM560 66h1v1h-1zM561 67h1v1h-1zM562 68h1v1h-1zM562 69h1v1h-1zM563 70h1v1h-1zM563 71h1v1h-1zM564 72h1v1h-1zM565 73h1v1h-1zM565 74h1v1h-1zM566 75h1v1h-1zM567 76h1v1h-1zM567 77h1v1h-1zM568 78h1v1h-1zM568 79h1v1h-1zM569 80h1v1h-1zM570 81h1v1h-1zM570 82h1v1h-1zM571 83h1v1h-1zM571 84h1v1h-1zM572 85h1v1h-1zM573 86h1v1h-1zM573 87h1v1h-1zM574 88h1v1h-1zM574 89h1v1h-1zM575 90h1v1h-1zM576 91h1v1h-1zM576 92h1v1h-1zM577 93h1v1h-1zM578 94h1v1h-1zM578 95h1v1h-1zM579 96h1v1h-1zM579 97h1v1h-1zM580 98h1v1h-1zM581 99h1v1h-1zM581 100h1v1h-1zM582 101h1v1h-1zM582 102h1v1h-1zM583 103h1v1h-1zM584 104h1v1h-1zM584 105h1v1h-1zM585 106h1v1h-1zM585 107h1v1h-1zM586 108h1v1h-1zM587 109h1v1h-1zM587 110h1v1h-1zM588 111h1v1h-1zM589 112h1v1h-1zM589 113h1v1h-1zM590 114h1v1h-1zM590 115h1v1h-1zM591 116h1v1h-1zM592 117h1v1h-1zM592 118h1v1h-1zM593 119h1v1h-1zM593 120h1v1h-1zM594 121h1v1h-1zM595 122h1v1h-1zM595 123h1v1h-1zM596 124h1v1h-1zM597 125h1v1h-1z" fill="#ff0000"/>
<path d="M585 119h2v1h-2zM587 120h2v1h-2zM589 121h2v1h-2zM591 122h2v1h-2zM593 123h2v1h-2zM595 124h2v1h-2zM597 125h1v1h-1z" fill="#ff0000"/>
<path d="M596 112h1v1h-1zM596 113h1v1h-1zM596 114h1v1h-1zM596 115h1v1h-1zM596 116h1v1h-1zM596 117h1v1h-1zM596 118h1v1h-1zM596 119h1v1h-1zM596 120h1v1h-1zM596 121h1v1h-1zM596 122h1v1h-1zM596 123h1v1h-1zM596 124h1v1h-1zM597 125h1v1h-1z" fill="#ff0000"/>
<path d="M709 107h2v1h-2zM708 108h1v1h-1zM707 109h1v1h-1zM706 110h1v1h-1zM705 111h1v1h-1zM704 112h1v1h-1zM703 113h1v1h-1zM702 114h1v1h-1zM701 115h1v1h-1zM700 116h1v1h-1zM699 117h1v1h-1zM698 118h1v1h-1zM697 119h1v1h-1zM695 120h2v1h-2zM694 121h1v1h-1zM693 122h1v1h-1zM692 123h1v1h-1zM691 124h1v1h-1zM690 125h1v1h-1zM689 126h1v1h-1zM688 127h1v1h-1zM687 128h1v1h-1zM686 129h1v1h-1zM685 130h1v1h-1zM684 131h1v1h-1zM683 132h1v1h-1zM681 133h2v1h-2zM680 134h1v1h-1zM679 135h1v1h-1zM678 136h1v1h-1zM677 137h1v1h-1zM676 138h1v1h-1zM675 139h1v1h-1zM674 140h1v1h-1zM673 141h1v1h-1zM672 142h1v1h-1zM671 143h1v1h-1zM670 144h1v1h-1zM669 145h1v1h-1zM668 146h1v1h-1zM667 147h1v1h-1z" fill="#ff0000"/>
<path d="M706 107h5v1h-5zM701 108h5v1h-5zM697 109h4v1h-4zM696 110h1v1h-1z" fill="#ff0000"/>
<path d="M710 107h1v1h-1zM709 108h1v1h-1zM709 109h1v1h-1zM708 110h1v1h-1zM708 111h1v1h-1zM707 112h1v1h-1zM707 113h1v1h-1zM707 114h1v1h-1zM706 115h1v1h-1zM706 116h1v1h-1zM705 117h1v1h-1zM705 118h1v1h-1zM705 119h1v1h-1z" fill="#ff0000"/>
<path d="M737 100h1v1h-1zM737 101h1v1h-1zM737 102h1v1h-1zM738 103h1v1h-1zM738 104h1v1h-1zM738 105h1v1h-1zM739 106h1v1h-1zM739 107h1v1h-1zM740 108h1v1h-1zM740 109h1v1h-1zM740 110h1v1h-1zM741 111h1v1h-1zM741 112h1v1h-1zM741 113h1v1h-1zM742 114h1v1h-1zM742 115h1v1h-1zM743 116h1v1h-1zM743 117h1v1h-1zM743 118h1v1h-1zM744 119h1v1h-1zM744 120h1v1h-1zM744 121h1v1h-1zM745 122h1v1h-1zM745 123h1v1h-1zM746 124h1v1h-1zM746 125h1v1h-1zM746 126h1v1h-1zM747 127h1v1h-1zM747 128h1v1h-1zM747 129h1v1h-1zM748 130h1v1h-1zM748 131h1v1h-1zM749 132h1v1h-1zM749 133h1v1h-1zM749 134h1v1h-1zM750 135h1v1h-1zM750 136h1v1h-1zM750 137h1v1h-1zM751 138h1v1h-1zM751 139h1v1h-1zM752 140h1v1h-1zM752 141h1v1h-1zM752 142h1v1h-1zM753 143h1v1h-1zM753 144h1v1h-1zM753 145h1v1h-1zM754 146h1v1h-1zM754 147h1v1h-1zM755 148h1v1h-1zM755 149h1v1h-1zM755 150h1v1h-1zM756 151h1v1h-1zM756 152h1v1h-1zM756 153h1v1h-1zM757 154h1v1h-1zM757 155h1v1h-1zM758 156h1v1h-1z" fill="#ff0000"/>
<path d="M748 148h2v1h-2zM750 149h1v1h-1zM751 150h1v1h-1zM752 151h1v1h-1zM753 152h2v1h-2zM755 153h1v1h-1zM756 154h1v1h-1zM757 155h1v1h-1zM758 156h1v1h-1z" fill="#ff0000"/>
<path d="M760 143h1v1h-1zM759 144h1v1h-1zM759 145h1v1h-1zM759 146h1v1h-1zM759 147h1v1h-1zM759 148h1v1h-1zM759 149h1v1h-1zM758 150h1v1h-1zM758 151h1v1h-1zM758 152h1v1h-1zM758 153h1v1h-1zM758 154h1v1h-1zM758 155h1v1h-1zM758 156h1v1h-1z" fill="#ff0000"/>
<path d="M821 57h1v1h-1zM820 58h1v1h-1zM820 59h1v1h-1zM819 63h1v1h-1zM819 64h1v1h-1zM819 65h1v1h-1zM818 69h1v1h-1zM817 70h1v1h-1zM817 71h1v1h-1zM816 75h1v1h-1zM816 76h1v1h-1zM816 77h1v1h-1zM815 81h1v1h-1zM814 82h1v1h-1zM814 83h1v1h-1zM813 87h1v1h-1zM813 88h1v1h-1zM813 89h1v1h-1zM812 93h1v1h-1zM811 94h1v1h-1zM811 95h1v1h-1zM810 99h1v1h-1zM810 100h1v1h-1zM810 101h1v1h-1zM809 105h1v1h-1zM808 106h1v1h-1zM808 107h1v1h-1zM807 111h1v1h-1zM807 112h1v1h-1zM807 113h1v1h-1z" fill="#ff0000"/>
<path d="M821 57h1v1h-1zM820 58h1v1h-1zM819 59h1v1h-1zM815 63h1v1h-1zM814 64h1v1h-1z" fill="#ff0000"/>
<path d="M821 57h1v1h-1zM821 58h1v1h-1zM821 59h1v1h-1zM823 63h1v1h-1zM823 64h1v1h-1zM823 65h1v1h-1zM825 69h1v1h-1z" fill="#ff0000"/>
</g>
<g class="ce">
<rect x="9" y="610" width="1" height="2" fill="#53b987"/>
<rect x="16" y="610" width="1" height="10" fill="#53b987"/>
<rect x="23" y="610" width="1" height="14" fill="#53b987"/>
<rect x="30" y="610" width="1" height="21" fill="#53b987"/>
<rect x="37" y="610" width="1" height="21" fill="#53b987"/>
<rect x="44" y="610" width="1" height="20" fill="#53b987"/>
<rect x="51" y="610" width="1" height="20" fill="#53b987"/>
<rect x="58" y="610" width="1" height="20" fill="#53b987"/>
<rect x="65" y="610" width="1" height="18" fill="#53b987"/>
<rect x="72" y="610" width="1" height="2" fill="#53b987"/>
<rect x="79" y="609" width="1" height="2" fill="#eb4d5c"/>
<rect x="86" y="610" width="1" height="2" fill="#53b987"/>
<rect x="93" y="610" width="1" height="2" fill="#53b987"/>
<rect x="100" y="610" width="1" height="2" fill="#53b987"/>
<rect x="107" y="596" width="1" height="15" fill="#eb4d5c"/>
<rect x="114" y="579" width="1" height="32" fill="#eb4d5c"/>
<rect x="121" y="570" width="1" height="41" fill="#eb4d5c"/>
<rect x="128" y="572" width="1" height="39" fill="#eb4d5c"/>
<rect x="135" y="569" width="1" height="42" fill="#eb4d5c"/>
<rect x="142" y="572" width="1" height="39" fill="#eb4d5c"/>
<rect x="149" y="576" width="1" height="35" fill="#eb4d5c"/>
<rect x="156" y="574" width="1" height="37" fill="#eb4d5c"/>
<rect x="163" y="581" width="1" height="30" fill="#eb4d5c"/>
<rect x="170" y="595" width="1" height="16" fill="#eb4d5c"/>
<rect x="177" y="601" width="1" height="10" fill="#eb4d5c"/>
<rect x="184" y="609" width="1" height="2" fill="#eb4d5c"/>
<rect x="191" y="610" width="1" height="2" fill="#53b987"/>
<rect x="198" y="610" width="1" height="7" fill="#53b987"/>
<rect x="205" y="610" width="1" height="14" fill="#53b987"/>
<rect x="212" y="610" width="1" height="22" fill="#53b987"/>
<rect x="219" y="610" width="1" height="26" fill="#53b987"/>
<rect x="226" y="610" width="1" height="29" fill="#53b987"/>
<rect x="233" y="610" width="1" height="26" fill="#53b987"/>
<rect x="240" y="610" width="1" height="29" fill="#53b987"/>
<rect x="247" y="610" width="1" height="34" fill="#53b987"/>
<rect x="254" y="610" width="1" height="36" fill="#53b987"/>
<rect x="261" y="610" width="1" height="44" fill="#53b987"/>
<rect x="268" y="610" width="1" height="44" fill="#53b987"/>
<rect x="275" y="610" width="1" height="42" fill="#53b987"/>
<rect x="282" y="610" width="1" height="39" fill="#53b987"/>
<rect x="289" y="610" width="1" height="37" fill="#53b987"/>
<rect x="296" y="610" width="1" height="29" fill="#53b987"/>
<rect x="303" y="610" width="1" height="20" fill="#53b987"/>
<rect x="310" y="610" width="1" height="11" fill="#53b987"/>
<rect x="317" y="610" width="1" height="9" fill="#53b987"/>
<rect x="324" y="610" width="1" height="2" fill="#53b987"/>
<rect x="331" y="605" width="1" height="6" fill="#eb4d5c"/>
<rect x="338" y="605" width="1" height="6" fill="#eb4d5c"/>
<rect x="345" y="609" width="1" height="2" fill="#eb4d5c"/>
<rect x="352" y="606" width="1" height="5" fill="#eb4d5c"/>
<rect x="359" y="606" width="1" height="5" fill="#eb4d5c"/>
<rect x="366" y="601" width="1" height="10" fill="#eb4d5c"/>
<rect x="373" y="603" width="1" height="8" fill="#eb4d5c"/>
<rect x="380" y="602" width="1" height="9" fill="#eb4d5c"/>
<rect x="387" y="600" width="1" height="11" fill="#eb4d5c"/>
<rect x="394" y="603" width="1" height="8" fill="#eb4d5c"/>
<rect x="401" y="604" width="1" height="7" fill="#eb4d5c"/>
<rect x="408" y="605" width="1" height="6" fill="#eb4d5c"/>
<rect x="415" y="603" width="1" height="8" fill="#eb4d5c"/>
<rect x="422" y="596" width="1" height="15" fill="#eb4d5c"/>
<rect x="429" y="595" width="1" height="16" fill="#eb4d5c"/>
<rect x="436" y="595" width="1" height="16" fill="#eb4d5c"/>
<rect x="443" y="601" width="1" height="10" fill="#eb4d5c"/>
<rect x="450" y="606" width="1" height="5" fill="#eb4d5c"/>
<rect x="457" y="609" width="1" height="2" fill="#eb4d5c"/>
<rect x="464" y="610" width="1" height="2" fill="#53b987"/>
<rect x="471" y="607" width="1" height="4" fill="#eb4d5c"/>
<rect x="478" y="604" width="1" height="7" fill="#eb4d5c"/>
<rect x="485" y="600" width="1" height="11" fill="#eb4d5c"/>
<rect x="492" y="596" width="1" height="15" fill="#eb4d5c"/>
<rect x="499" y="594" width="1" height="17" fill="#eb4d5c"/>
<rect x="506" y="590" width="1" height="21" fill="#eb4d5c"/>
<rect x="513" y="588" width="1" height="23" fill="#eb4d5c"/>
<rect x="520" y="589" width="1" height="22" fill="#eb4d5c"/>
<rect x="527" y="594" width="1" height="17" fill="#eb4d5c"/>
<rect x="534" y="597" width="1" height="14" fill="#eb4d5c"/>
<rect x="541" y="606" width="1" height="5" fill="#eb4d5c"/>
<rect x="548" y="610" width="1" height="2" fill="#53b987"/>
<rect x="555" y="610" width="1" height="6" fill="#53b987"/>
<rect x="562" y="610" width="1" height="10" fill="#53b987"/>
<rect x="569" y="610" width="1" height="14" fill="#53b987"/>
<rect x="576" y="610" width="1" height="18" fill="#53b987"/>
<rect x="583" y="610" width="1" height="24" fill="#53b987"/>
<rect x="590" y="610" width="1" height="24" fill="#53b987"/>
<rect x="597" y="610" width="1" height="28" fill="#53b987"/>
<rect x="604" y="610" width="1" height="26" fill="#53b987"/>
<rect x="611" y="610" width="1" height="22" fill="#53b987"/>
<rect x="618" y="610" width="1" height="14" fill="#53b987"/>
<rect x="625" y="610" width="1" height="8" fill="#53b987"/>
<rect x="632" y="610" width="1" height="4" fill="#53b987"/>
<rect x="639" y="610" width="1" height="4" fill="#53b987"/>
<rect x="646" y="610" width="1" height="13" fill="#53b987"/>
<rect x="653" y="610" width="1" height="21" fill="#53b987"/>
<rect x="660" y="610" width="1" height="34" fill="#53b987"/>
<rect x="667" y="610" width="1" height="40" fill="#53b987"/>
<rect x="674" y="610" width="1" height="31" fill="#53b987"/>
<rect x="681" y="610" width="1" height="25" fill="#53b987"/>
<rect x="688" y="610" width="1" height="20" fill="#53b987"/>
<rect x="695" y="610" width="1" height="11" fill="#53b987"/>
<rect x="702" y="610" width="1" height="4" fill="#53b987"/>
<rect x="709" y="610" width="1" height="2" fill="#53b987"/>
<rect x="716" y="609" width="1" height="2" fill="#eb4d5c"/>
<rect x="723" y="605" width="1" height="6" fill="#eb4d5c"/>
<rect x="730" y="601" width="1" height="10" fill="#eb4d5c"/>
<rect x="737" y="603" width="1" height="8" fill="#eb4d5c"/>
<rect x="744" y="600" width="1" height="11" fill="#eb4d5c"/>
<rect x="751" y="602" width="1" height="9" fill="#eb4d5c"/>
<rect x="758" y="605" width="1" height="6" fill="#eb4d5c"/>
<rect x="765" y="606" width="1" height="5" fill="#eb4d5c"/>
<rect x="772" y="610" width="1" height="2" fill="#53b987"/>
<rect x="779" y="605" width="1" height="6" fill="#eb4d5c"/>
<rect x="786" y="609" width="1" height="2" fill="#eb4d5c"/>
<rect x="793" y="610" width="1" height="2" fill="#53b987"/>
<rect x="800" y="610" width="1" height="2" fill="#53b987"/>
<rect x="807" y="609" width="1" height="2" fill="#eb4d5c"/>
<rect x="814" y="608" width="1" height="3" fill="#eb4d5c"/>
<rect x="821" y="605" width="1" height="6" fill="#eb4d5c"/>
<rect x="828" y="605" width="1" height="6" fill="#eb4d5c"/>
</g>
<g class="ce">
<path d="M156 522h8v1h-8zM154 523h2v1h-2zM164 523h2v1h-2zM152 524h2v1h-2zM166 524h2v1h-2zM150 525h2v1h-2zM168 525h2v1h-2zM149 526h1v1h-1zM170 526h2v1h-2zM147 527h2v1h-2zM172 527h4v1h-4zM145 528h2v1h-2zM176 528h2v1h-2zM143 529h2v1h-2zM178 529h2v1h-2zM141 530h2v1h-2zM180 530h1v1h-1zM139 531h2v1h-2zM181 531h1v1h-1zM137 532h2v1h-2zM182 532h2v1h-2zM135 533h2v1h-2zM184 533h2v1h-2zM133 534h2v1h-2zM186 534h4v1h-4zM132 535h1v1h-1zM190 535h2v1h-2zM131 536h1v1h-1zM192 536h2v1h-2zM129 537h2v1h-2zM194 537h2v1h-2zM128 538h1v1h-1zM196 538h2v1h-2zM126 539h2v1h-2zM198 539h1v1h-1zM125 540h1v1h-1zM199 540h1v1h-1zM124 541h1v1h-1zM200 541h1v1h-1zM122 542h2v1h-2zM201 542h2v1h-2zM121 543h1v1h-1zM203 543h1v1h-1zM120 544h1v1h-1zM204 544h1v1h-1zM119 545h1v1h-1zM205 545h1v1h-1zM119 546h1v1h-1zM206 546h1v1h-1zM118 547h1v1h-1zM207 547h1v1h-1zM117 548h1v1h-1zM208 548h1v1h-1zM116 549h1v1h-1zM209 549h1v1h-1zM116 550h1v1h-1zM210 550h1v1h-1zM115 551h1v1h-1zM211 551h1v1h-1zM114 552h1v1h-1zM212 552h1v1h-1zM113 553h1v1h-1zM213 553h2v1h-2zM9 554h2v1h-2zM113 554h1v1h-1zM215 554h1v1h-1zM11 555h2v1h-2zM112 555h1v1h-1zM216 555h1v1h-1zM517 555h7v1h-7zM13 556h2v1h-2zM112 556h1v1h-1zM217 556h2v1h-2zM513 556h4v1h-4zM524 556h11v1h-11zM15 557h2v1h-2zM111 557h1v1h-1zM219 557h2v1h-2zM511 557h2v1h-2zM535 557h2v1h-2zM17 558h2v1h-2zM111 558h1v1h-1zM221 558h2v1h-2zM509 558h2v1h-2zM537 558h2v1h-2zM19 559h1v1h-1zM110 559h1v1h-1zM223 559h2v1h-2zM507 559h2v1h-2zM539 559h2v1h-2zM20 560h1v1h-1zM110 560h1v1h-1zM225 560h3v1h-3zM506 560h1v1h-1zM541 560h2v1h-2zM21 561h2v1h-2zM109 561h1v1h-1zM228 561h4v1h-4zM504 561h2v1h-2zM543 561h2v1h-2zM23 562h1v1h-1zM109 562h1v1h-1zM232 562h3v1h-3zM503 562h1v1h-1zM545 562h2v1h-2zM24 563h1v1h-1zM108 563h1v1h-1zM235 563h2v1h-2zM502 563h1v1h-1zM547 563h3v1h-3zM25 564h1v1h-1zM108 564h1v1h-1zM237 564h2v1h-2zM500 564h2v1h-2zM550 564h2v1h-2zM26 565h2v1h-2zM107 565h1v1h-1zM239 565h2v1h-2zM498 565h2v1h-2zM552 565h2v1h-2zM28 566h1v1h-1zM106 566h1v1h-1zM241 566h1v1h-1zM496 566h2v1h-2zM554 566h3v1h-3zM29 567h1v1h-1zM105 567h1v1h-1zM242 567h1v1h-1zM494 567h2v1h-2zM557 567h2v1h-2zM30 568h1v1h-1zM104 568h1v1h-1zM243 568h1v1h-1zM492 568h2v1h-2zM559 568h2v1h-2zM31 569h2v1h-2zM104 569h1v1h-1zM244 569h1v1h-1zM490 569h2v1h-2zM561 569h3v1h-3zM33 570h1v1h-1zM103 570h1v1h-1zM245 570h1v1h-1zM488 570h2v1h-2zM564 570h2v1h-2zM34 571h1v1h-1zM102 571h1v1h-1zM246 571h1v1h-1zM486 571h2v1h-2zM566 571h2v1h-2zM35 572h2v1h-2zM101 572h1v1h-1zM247 572h1v1h-1zM484 572h2v1h-2zM568 572h2v1h-2zM37 573h2v1h-2zM76 573h7v1h-7zM97 573h4v1h-4zM248 573h1v1h-1zM433 573h5v1h-5zM482 573h2v1h-2zM570 573h2v1h-2zM39 574h4v1h-4zM72 574h4v1h-4zM83 574h14v1h-14zM249 574h1v1h-1zM428 574h5v1h-5zM438 574h4v1h-4zM480 574h2v1h-2zM572 574h1v1h-1zM43 575h3v1h-3zM71 575h1v1h-1zM250 575h2v1h-2zM426 575h2v1h-2zM442 575h3v1h-3zM477 575h3v1h-3zM573 575h1v1h-1zM46 576h2v1h-2zM70 576h1v1h-1zM252 576h1v1h-1zM424 576h2v1h-2zM445 576h4v1h-4zM475 576h2v1h-2zM574 576h2v1h-2zM48 577h2v1h-2zM69 577h1v1h-1zM253 577h1v1h-1zM422 577h2v1h-2zM449 577h5v1h-5zM473 577h2v1h-2zM576 577h1v1h-1zM50 578h3v1h-3zM68 578h1v1h-1zM254 578h1v1h-1zM421 578h1v1h-1zM454 578h7v1h-7zM468 578h5v1h-5zM577 578h2v1h-2zM53 579h2v1h-2zM67 579h1v1h-1zM255 579h1v1h-1zM420 579h1v1h-1zM461 579h7v1h-7zM579 579h1v1h-1zM55 580h2v1h-2zM66 580h1v1h-1zM255 580h1v1h-1zM418 580h2v1h-2zM580 580h1v1h-1zM57 581h9v1h-9zM256 581h1v1h-1zM417 581h1v1h-1zM581 581h2v1h-2zM257 582h1v1h-1zM416 582h1v1h-1zM583 582h1v1h-1zM258 583h1v1h-1zM414 583h2v1h-2zM584 583h2v1h-2zM258 584h1v1h-1zM386 584h5v1h-5zM410 584h4v1h-4zM586 584h2v1h-2zM259 585h1v1h-1zM382 585h4v1h-4zM391 585h19v1h-19zM588 585h2v1h-2zM260 586h1v1h-1zM379 586h3v1h-3zM590 586h1v1h-1zM260 587h1v1h-1zM375 587h4v1h-4zM591 587h2v1h-2zM261 588h1v1h-1zM365 588h10v1h-10zM593 588h2v1h-2zM262 589h2v1h-2zM361 589h4v1h-4zM595 589h2v1h-2zM624 589h16v1h-16zM264 590h1v1h-1zM356 590h5v1h-5zM597 590h1v1h-1zM622 590h2v1h-2zM640 590h1v1h-1zM265 591h1v1h-1zM351 591h5v1h-5zM598 591h2v1h-2zM620 591h2v1h-2zM641 591h1v1h-1zM266 592h2v1h-2zM330 592h12v1h-12zM347 592h4v1h-4zM600 592h2v1h-2zM617 592h3v1h-3zM642 592h2v1h-2zM268 593h1v1h-1zM328 593h2v1h-2zM342 593h5v1h-5zM602 593h2v1h-2zM613 593h4v1h-4zM644 593h1v1h-1zM269 594h2v1h-2zM326 594h2v1h-2zM604 594h9v1h-9zM645 594h1v1h-1zM271 595h2v1h-2zM323 595h3v1h-3zM646 595h1v1h-1zM273 596h2v1h-2zM321 596h2v1h-2zM647 596h2v1h-2zM275 597h1v1h-1zM319 597h2v1h-2zM649 597h1v1h-1zM276 598h2v1h-2zM314 598h5v1h-5zM650 598h1v1h-1zM278 599h2v1h-2zM309 599h5v1h-5zM651 599h2v1h-2zM280 600h2v1h-2zM307 600h2v1h-2zM653 600h1v1h-1zM282 601h2v1h-2zM305 601h2v1h-2zM654 601h1v1h-1zM284 602h2v1h-2zM302 602h3v1h-3zM654 602h1v1h-1zM825 602h4v1h-4zM286 603h2v1h-2zM298 603h4v1h-4zM655 603h1v1h-1zM743 603h12v1h-12zM778 603h3v1h-3zM818 603h7v1h-7zM288 604h10v1h-10zM656 604h1v1h-1zM739 604h4v1h-4zM755 604h14v1h-14zM774 604h4v1h-4zM781 604h4v1h-4zM811 604h7v1h-7zM656 605h1v1h-1zM730 605h9v1h-9zM769 605h5v1h-5zM785 605h12v1h-12zM804 605h7v1h-7zM657 606h1v1h-1zM728 606h2v1h-2zM797 606h7v1h-7zM657 607h1v1h-1zM726 607h2v1h-2zM658 608h1v1h-1zM724 608h2v1h-2zM659 609h1v1h-1zM720 609h4v1h-4zM659 610h1v1h-1zM715 610h5v1h-5zM660 611h1v1h-1zM711 611h4v1h-4zM661 612h1v1h-1zM701 612h10v1h-10zM662 613h1v1h-1zM699 613h2v1h-2zM662 614h1v1h-1zM697 614h2v1h-2zM663 615h1v1h-1zM695 615h2v1h-2zM664 616h1v1h-1zM693 616h2v1h-2zM665 617h1v1h-1zM691 617h2v1h-2zM665 618h1v1h-1zM689 618h2v1h-2zM666 619h1v1h-1zM671 619h18v1h-18zM667 620h4v1h-4z" fill="#e6e6e6"/>
</g>
<g class="ce">
<path d="M174 533h19v1h-19zM169 534h5v1h-5zM193 534h4v1h-4zM165 535h4v1h-4zM197 535h3v1h-3zM163 536h2v1h-2zM200 536h4v1h-4zM161 537h2v1h-2zM204 537h3v1h-3zM159 538h2v1h-2zM207 538h2v1h-2zM157 539h2v1h-2zM209 539h2v1h-2zM156 540h1v1h-1zM211 540h3v1h-3zM154 541h2v1h-2zM214 541h2v1h-2zM152 542h2v1h-2zM216 542h2v1h-2zM150 543h2v1h-2zM218 543h3v1h-3zM149 544h1v1h-1zM221 544h2v1h-2zM147 545h2v1h-2zM223 545h2v1h-2zM145 546h2v1h-2zM225 546h3v1h-3zM143 547h2v1h-2zM228 547h2v1h-2zM142 548h1v1h-1zM230 548h2v1h-2zM140 549h2v1h-2zM232 549h3v1h-3zM139 550h1v1h-1zM235 550h2v1h-2zM138 551h1v1h-1zM237 551h2v1h-2zM136 552h2v1h-2zM239 552h3v1h-3zM135 553h1v1h-1zM242 553h2v1h-2zM9 554h4v1h-4zM133 554h2v1h-2zM244 554h2v1h-2zM13 555h5v1h-5zM132 555h1v1h-1zM246 555h2v1h-2zM18 556h4v1h-4zM131 556h1v1h-1zM248 556h2v1h-2zM22 557h3v1h-3zM129 557h2v1h-2zM250 557h1v1h-1zM25 558h4v1h-4zM128 558h1v1h-1zM251 558h1v1h-1zM29 559h3v1h-3zM126 559h2v1h-2zM252 559h2v1h-2zM32 560h2v1h-2zM125 560h1v1h-1zM254 560h1v1h-1zM34 561h2v1h-2zM124 561h1v1h-1zM255 561h1v1h-1zM36 562h3v1h-3zM122 562h2v1h-2zM256 562h1v1h-1zM533 562h19v1h-19zM39 563h2v1h-2zM121 563h1v1h-1zM257 563h2v1h-2zM529 563h4v1h-4zM552 563h7v1h-7zM41 564h2v1h-2zM119 564h2v1h-2zM259 564h1v1h-1zM526 564h3v1h-3zM559 564h7v1h-7zM43 565h3v1h-3zM118 565h1v1h-1zM260 565h1v1h-1zM522 565h4v1h-4zM566 565h5v1h-5zM46 566h2v1h-2zM117 566h1v1h-1zM261 566h1v1h-1zM519 566h3v1h-3zM571 566h2v1h-2zM48 567h2v1h-2zM115 567h2v1h-2zM262 567h1v1h-1zM515 567h4v1h-4zM573 567h2v1h-2zM50 568h3v1h-3zM114 568h1v1h-1zM263 568h1v1h-1zM512 568h3v1h-3zM575 568h3v1h-3zM53 569h4v1h-4zM112 569h2v1h-2zM264 569h2v1h-2zM508 569h4v1h-4zM578 569h2v1h-2zM57 570h3v1h-3zM110 570h2v1h-2zM266 570h1v1h-1zM505 570h3v1h-3zM580 570h2v1h-2zM60 571h4v1h-4zM108 571h2v1h-2zM267 571h1v1h-1zM503 571h2v1h-2zM582 571h2v1h-2zM64 572h5v1h-5zM104 572h4v1h-4zM268 572h1v1h-1zM501 572h2v1h-2zM584 572h2v1h-2zM69 573h14v1h-14zM97 573h7v1h-7zM269 573h2v1h-2zM498 573h3v1h-3zM586 573h2v1h-2zM83 574h14v1h-14zM271 574h1v1h-1zM494 574h4v1h-4zM588 574h2v1h-2zM272 575h1v1h-1zM489 575h5v1h-5zM590 575h2v1h-2zM273 576h2v1h-2zM484 576h5v1h-5zM592 576h2v1h-2zM275 577h1v1h-1zM480 577h4v1h-4zM594 577h2v1h-2zM276 578h2v1h-2zM475 578h5v1h-5zM596 578h3v1h-3zM278 579h1v1h-1zM440 579h35v1h-35zM599 579h2v1h-2zM279 580h1v1h-1zM435 580h5v1h-5zM601 580h2v1h-2zM280 581h2v1h-2zM431 581h4v1h-4zM603 581h3v1h-3zM282 582h1v1h-1zM428 582h3v1h-3zM606 582h4v1h-4zM283 583h2v1h-2zM424 583h4v1h-4zM610 583h3v1h-3zM285 584h2v1h-2zM421 584h3v1h-3zM613 584h4v1h-4zM287 585h2v1h-2zM417 585h4v1h-4zM617 585h5v1h-5zM289 586h1v1h-1zM412 586h5v1h-5zM622 586h7v1h-7zM290 587h2v1h-2zM405 587h7v1h-7zM629 587h14v1h-14zM292 588h2v1h-2zM391 588h14v1h-14zM643 588h5v1h-5zM294 589h2v1h-2zM384 589h7v1h-7zM648 589h2v1h-2zM296 590h2v1h-2zM377 590h7v1h-7zM650 590h2v1h-2zM298 591h4v1h-4zM370 591h7v1h-7zM652 591h2v1h-2zM302 592h3v1h-3zM363 592h7v1h-7zM654 592h2v1h-2zM305 593h4v1h-4zM349 593h14v1h-14zM656 593h2v1h-2zM309 594h5v1h-5zM328 594h21v1h-21zM658 594h2v1h-2zM314 595h14v1h-14zM660 595h1v1h-1zM661 596h2v1h-2zM663 597h1v1h-1zM664 598h1v1h-1zM665 599h2v1h-2zM667 600h1v1h-1zM668 601h2v1h-2zM670 602h2v1h-2zM672 603h2v1h-2zM674 604h2v1h-2zM825 604h4v1h-4zM676 605h2v1h-2zM769 605h56v1h-56zM678 606h2v1h-2zM755 606h14v1h-14zM680 607h3v1h-3zM748 607h7v1h-7zM683 608h4v1h-4zM741 608h7v1h-7zM687 609h3v1h-3zM734 609h7v1h-7zM690 610h4v1h-4zM727 610h7v1h-7zM694 611h33v1h-33z" fill="#d6d61c"/>
</g>
<g class="ce">
<path d="M114 677h8v1h-8zM156 677h1v1h-1zM512 677h3v1h-3zM113 678h1v1h-1zM122 678h1v1h-1zM155 678h1v1h-1zM157 678h1v1h-1zM508 678h4v1h-4zM515 678h4v1h-4zM112 679h1v1h-1zM122 679h1v1h-1zM154 679h1v1h-1zM157 679h1v1h-1zM506 679h2v1h-2zM519 679h2v1h-2zM112 680h1v1h-1zM123 680h1v1h-1zM135 680h1v1h-1zM153 680h1v1h-1zM158 680h1v1h-1zM505 680h1v1h-1zM521 680h1v1h-1zM111 681h1v1h-1zM124 681h1v1h-1zM134 681h1v1h-1zM136 681h1v1h-1zM153 681h1v1h-1zM158 681h1v1h-1zM504 681h1v1h-1zM521 681h1v1h-1zM110 682h1v1h-1zM125 682h1v1h-1zM133 682h1v1h-1zM137 682h1v1h-1zM152 682h1v1h-1zM159 682h1v1h-1zM502 682h2v1h-2zM522 682h1v1h-1zM109 683h1v1h-1zM125 683h1v1h-1zM132 683h1v1h-1zM138 683h2v1h-2zM151 683h1v1h-1zM159 683h1v1h-1zM501 683h1v1h-1zM523 683h1v1h-1zM109 684h1v1h-1zM126 684h1v1h-1zM131 684h1v1h-1zM140 684h1v1h-1zM150 684h1v1h-1zM160 684h1v1h-1zM500 684h1v1h-1zM523 684h1v1h-1zM72 685h1v1h-1zM108 685h1v1h-1zM127 685h1v1h-1zM130 685h1v1h-1zM141 685h1v1h-1zM146 685h4v1h-4zM160 685h1v1h-1zM498 685h2v1h-2zM524 685h1v1h-1zM72 686h1v1h-1zM107 686h1v1h-1zM127 686h1v1h-1zM129 686h1v1h-1zM142 686h4v1h-4zM161 686h1v1h-1zM494 686h4v1h-4zM524 686h1v1h-1zM71 687h1v1h-1zM73 687h1v1h-1zM107 687h1v1h-1zM128 687h1v1h-1zM161 687h1v1h-1zM491 687h3v1h-3zM525 687h1v1h-1zM533 687h2v1h-2zM71 688h1v1h-1zM73 688h1v1h-1zM106 688h1v1h-1zM162 688h1v1h-1zM489 688h2v1h-2zM526 688h1v1h-1zM531 688h2v1h-2zM534 688h1v1h-1zM71 689h1v1h-1zM74 689h1v1h-1zM106 689h1v1h-1zM162 689h1v1h-1zM487 689h2v1h-2zM526 689h1v1h-1zM529 689h2v1h-2zM535 689h1v1h-1zM70 690h1v1h-1zM74 690h1v1h-1zM106 690h1v1h-1zM163 690h1v1h-1zM485 690h2v1h-2zM527 690h2v1h-2zM535 690h1v1h-1zM70 691h1v1h-1zM74 691h1v1h-1zM105 691h1v1h-1zM164 691h1v1h-1zM484 691h1v1h-1zM536 691h1v1h-1zM70 692h1v1h-1zM75 692h1v1h-1zM105 692h1v1h-1zM164 692h1v1h-1zM483 692h1v1h-1zM536 692h1v1h-1zM69 693h1v1h-1zM75 693h1v1h-1zM105 693h1v1h-1zM165 693h1v1h-1zM481 693h2v1h-2zM537 693h1v1h-1zM69 694h1v1h-1zM76 694h1v1h-1zM104 694h1v1h-1zM165 694h1v1h-1zM422 694h1v1h-1zM480 694h1v1h-1zM537 694h1v1h-1zM69 695h1v1h-1zM76 695h1v1h-1zM104 695h1v1h-1zM166 695h1v1h-1zM421 695h1v1h-1zM423 695h1v1h-1zM479 695h1v1h-1zM538 695h1v1h-1zM68 696h1v1h-1zM77 696h1v1h-1zM104 696h1v1h-1zM166 696h1v1h-1zM420 696h1v1h-1zM424 696h1v1h-1zM478 696h1v1h-1zM538 696h1v1h-1zM68 697h1v1h-1zM77 697h1v1h-1zM103 697h1v1h-1zM167 697h1v1h-1zM420 697h1v1h-1zM425 697h2v1h-2zM476 697h2v1h-2zM538 697h1v1h-1zM68 698h1v1h-1zM77 698h1v1h-1zM103 698h1v1h-1zM167 698h1v1h-1zM191 698h2v1h-2zM419 698h1v1h-1zM427 698h1v1h-1zM474 698h2v1h-2zM539 698h1v1h-1zM67 699h1v1h-1zM78 699h1v1h-1zM102 699h1v1h-1zM168 699h1v1h-1zM177 699h2v1h-2zM189 699h2v1h-2zM193 699h2v1h-2zM418 699h1v1h-1zM428 699h1v1h-1zM433 699h4v1h-4zM472 699h2v1h-2zM539 699h1v1h-1zM67 700h1v1h-1zM78 700h1v1h-1zM102 700h1v1h-1zM168 700h1v1h-1zM175 700h2v1h-2zM179 700h2v1h-2zM187 700h2v1h-2zM195 700h2v1h-2zM417 700h1v1h-1zM429 700h4v1h-4zM437 700h1v1h-1zM471 700h1v1h-1zM540 700h1v1h-1zM67 701h1v1h-1zM79 701h1v1h-1zM102 701h1v1h-1zM169 701h1v1h-1zM174 701h1v1h-1zM181 701h2v1h-2zM185 701h2v1h-2zM197 701h2v1h-2zM417 701h1v1h-1zM437 701h1v1h-1zM470 701h1v1h-1zM540 701h1v1h-1zM66 702h1v1h-1zM79 702h1v1h-1zM101 702h1v1h-1zM169 702h1v1h-1zM173 702h1v1h-1zM183 702h2v1h-2zM199 702h1v1h-1zM416 702h1v1h-1zM438 702h1v1h-1zM469 702h1v1h-1zM541 702h1v1h-1zM545 702h7v1h-7zM622 702h4v1h-4zM66 703h1v1h-1zM80 703h1v1h-1zM101 703h1v1h-1zM170 703h3v1h-3zM200 703h1v1h-1zM415 703h1v1h-1zM438 703h1v1h-1zM468 703h1v1h-1zM541 703h4v1h-4zM552 703h4v1h-4zM618 703h4v1h-4zM626 703h2v1h-2zM66 704h1v1h-1zM81 704h1v1h-1zM93 704h2v1h-2zM101 704h1v1h-1zM170 704h1v1h-1zM200 704h1v1h-1zM366 704h1v1h-1zM414 704h1v1h-1zM439 704h1v1h-1zM467 704h1v1h-1zM556 704h2v1h-2zM617 704h1v1h-1zM628 704h2v1h-2zM65 705h1v1h-1zM82 705h1v1h-1zM92 705h1v1h-1zM95 705h4v1h-4zM100 705h1v1h-1zM201 705h1v1h-1zM365 705h1v1h-1zM367 705h1v1h-1zM413 705h1v1h-1zM439 705h1v1h-1zM466 705h1v1h-1zM558 705h1v1h-1zM617 705h1v1h-1zM630 705h2v1h-2zM65 706h1v1h-1zM83 706h1v1h-1zM91 706h1v1h-1zM99 706h2v1h-2zM202 706h1v1h-1zM365 706h1v1h-1zM367 706h1v1h-1zM412 706h1v1h-1zM440 706h1v1h-1zM465 706h1v1h-1zM559 706h1v1h-1zM616 706h1v1h-1zM632 706h2v1h-2zM64 707h1v1h-1zM83 707h1v1h-1zM89 707h2v1h-2zM203 707h1v1h-1zM233 707h1v1h-1zM330 707h2v1h-2zM364 707h1v1h-1zM368 707h1v1h-1zM386 707h2v1h-2zM412 707h1v1h-1zM440 707h1v1h-1zM463 707h2v1h-2zM560 707h2v1h-2zM615 707h1v1h-1zM634 707h4v1h-4zM9 708h2v1h-2zM43 708h3v1h-3zM64 708h1v1h-1zM84 708h1v1h-1zM88 708h1v1h-1zM203 708h1v1h-1zM231 708h2v1h-2zM234 708h1v1h-1zM326 708h4v1h-4zM332 708h1v1h-1zM363 708h1v1h-1zM369 708h1v1h-1zM384 708h2v1h-2zM388 708h1v1h-1zM411 708h1v1h-1zM441 708h1v1h-1zM461 708h2v1h-2zM562 708h2v1h-2zM615 708h1v1h-1zM638 708h2v1h-2zM11 709h4v1h-4zM41 709h2v1h-2zM46 709h2v1h-2zM63 709h1v1h-1zM85 709h1v1h-1zM87 709h1v1h-1zM204 709h1v1h-1zM229 709h2v1h-2zM235 709h1v1h-1zM324 709h2v1h-2zM333 709h1v1h-1zM363 709h1v1h-1zM369 709h1v1h-1zM382 709h2v1h-2zM389 709h1v1h-1zM410 709h1v1h-1zM441 709h1v1h-1zM459 709h2v1h-2zM564 709h4v1h-4zM614 709h1v1h-1zM639 709h1v1h-1zM15 710h5v1h-5zM39 710h2v1h-2zM48 710h2v1h-2zM62 710h1v1h-1zM86 710h1v1h-1zM205 710h1v1h-1zM227 710h2v1h-2zM235 710h1v1h-1zM323 710h1v1h-1zM334 710h1v1h-1zM362 710h1v1h-1zM370 710h1v1h-1zM380 710h2v1h-2zM390 710h1v1h-1zM409 710h1v1h-1zM442 710h1v1h-1zM456 710h3v1h-3zM568 710h2v1h-2zM613 710h1v1h-1zM639 710h1v1h-1zM20 711h4v1h-4zM37 711h2v1h-2zM50 711h2v1h-2zM62 711h1v1h-1zM206 711h2v1h-2zM225 711h2v1h-2zM236 711h1v1h-1zM310 711h1v1h-1zM322 711h1v1h-1zM335 711h1v1h-1zM362 711h1v1h-1zM370 711h1v1h-1zM378 711h2v1h-2zM391 711h1v1h-1zM400 711h9v1h-9zM442 711h1v1h-1zM452 711h4v1h-4zM570 711h2v1h-2zM612 711h1v1h-1zM640 711h1v1h-1zM24 712h1v1h-1zM36 712h1v1h-1zM52 712h2v1h-2zM61 712h1v1h-1zM208 712h1v1h-1zM223 712h2v1h-2zM237 712h1v1h-1zM309 712h1v1h-1zM311 712h1v1h-1zM322 712h1v1h-1zM335 712h1v1h-1zM352 712h2v1h-2zM361 712h1v1h-1zM371 712h1v1h-1zM377 712h1v1h-1zM392 712h1v1h-1zM398 712h2v1h-2zM443 712h1v1h-1zM447 712h5v1h-5zM572 712h1v1h-1zM612 712h1v1h-1zM640 712h1v1h-1zM25 713h1v1h-1zM35 713h1v1h-1zM54 713h1v1h-1zM60 713h1v1h-1zM209 713h1v1h-1zM221 713h2v1h-2zM238 713h1v1h-1zM308 713h1v1h-1zM312 713h1v1h-1zM321 713h1v1h-1zM336 713h1v1h-1zM351 713h1v1h-1zM354 713h2v1h-2zM360 713h1v1h-1zM372 713h1v1h-1zM376 713h1v1h-1zM393 713h1v1h-1zM396 713h2v1h-2zM443 713h4v1h-4zM573 713h1v1h-1zM611 713h1v1h-1zM640 713h1v1h-1zM730 713h1v1h-1zM779 713h1v1h-1zM26 714h1v1h-1zM34 714h1v1h-1zM55 714h1v1h-1zM59 714h1v1h-1zM210 714h2v1h-2zM216 714h5v1h-5zM238 714h1v1h-1zM306 714h2v1h-2zM313 714h1v1h-1zM320 714h1v1h-1zM337 714h1v1h-1zM350 714h1v1h-1zM356 714h2v1h-2zM360 714h1v1h-1zM372 714h1v1h-1zM374 714h2v1h-2zM394 714h2v1h-2zM574 714h2v1h-2zM610 714h1v1h-1zM640 714h1v1h-1zM728 714h2v1h-2zM731 714h1v1h-1zM744 714h1v1h-1zM779 714h1v1h-1zM27 715h1v1h-1zM34 715h1v1h-1zM56 715h2v1h-2zM59 715h1v1h-1zM212 715h4v1h-4zM239 715h1v1h-1zM305 715h1v1h-1zM314 715h1v1h-1zM319 715h1v1h-1zM338 715h1v1h-1zM350 715h1v1h-1zM358 715h2v1h-2zM373 715h1v1h-1zM576 715h1v1h-1zM610 715h1v1h-1zM641 715h1v1h-1zM726 715h2v1h-2zM732 715h1v1h-1zM743 715h1v1h-1zM745 715h1v1h-1zM778 715h1v1h-1zM780 715h1v1h-1zM820 715h5v1h-5zM27 716h1v1h-1zM33 716h1v1h-1zM58 716h1v1h-1zM240 716h1v1h-1zM304 716h1v1h-1zM315 716h1v1h-1zM319 716h1v1h-1zM339 716h1v1h-1zM349 716h1v1h-1zM576 716h1v1h-1zM609 716h1v1h-1zM641 716h1v1h-1zM724 716h2v1h-2zM732 716h1v1h-1zM742 716h1v1h-1zM746 716h1v1h-1zM778 716h1v1h-1zM780 716h1v1h-1zM818 716h2v1h-2zM825 716h4v1h-4zM28 717h1v1h-1zM32 717h1v1h-1zM241 717h1v1h-1zM303 717h1v1h-1zM316 717h1v1h-1zM318 717h1v1h-1zM340 717h1v1h-1zM348 717h1v1h-1zM577 717h1v1h-1zM609 717h1v1h-1zM641 717h1v1h-1zM723 717h1v1h-1zM733 717h1v1h-1zM741 717h1v1h-1zM747 717h1v1h-1zM777 717h1v1h-1zM781 717h1v1h-1zM816 717h2v1h-2zM29 718h1v1h-1zM31 718h1v1h-1zM242 718h1v1h-1zM301 718h2v1h-2zM317 718h1v1h-1zM341 718h2v1h-2zM347 718h1v1h-1zM577 718h1v1h-1zM608 718h1v1h-1zM641 718h1v1h-1zM699 718h4v1h-4zM722 718h1v1h-1zM734 718h1v1h-1zM741 718h1v1h-1zM748 718h1v1h-1zM777 718h1v1h-1zM781 718h1v1h-1zM811 718h5v1h-5zM30 719h1v1h-1zM242 719h1v1h-1zM299 719h2v1h-2zM343 719h1v1h-1zM347 719h1v1h-1zM578 719h1v1h-1zM608 719h1v1h-1zM642 719h1v1h-1zM695 719h4v1h-4zM703 719h2v1h-2zM721 719h1v1h-1zM735 719h1v1h-1zM740 719h1v1h-1zM749 719h1v1h-1zM777 719h1v1h-1zM782 719h1v1h-1zM807 719h4v1h-4zM243 720h1v1h-1zM297 720h2v1h-2zM344 720h1v1h-1zM346 720h1v1h-1zM578 720h1v1h-1zM607 720h1v1h-1zM642 720h1v1h-1zM694 720h1v1h-1zM705 720h2v1h-2zM721 720h1v1h-1zM735 720h1v1h-1zM739 720h1v1h-1zM750 720h1v1h-1zM776 720h1v1h-1zM782 720h1v1h-1zM806 720h1v1h-1zM244 721h1v1h-1zM296 721h1v1h-1zM345 721h1v1h-1zM579 721h1v1h-1zM606 721h1v1h-1zM642 721h1v1h-1zM694 721h1v1h-1zM707 721h2v1h-2zM720 721h1v1h-1zM736 721h1v1h-1zM738 721h1v1h-1zM751 721h2v1h-2zM776 721h1v1h-1zM783 721h1v1h-1zM805 721h1v1h-1zM245 722h1v1h-1zM295 722h1v1h-1zM579 722h1v1h-1zM590 722h1v1h-1zM606 722h1v1h-1zM642 722h1v1h-1zM693 722h1v1h-1zM709 722h1v1h-1zM719 722h1v1h-1zM737 722h1v1h-1zM753 722h2v1h-2zM775 722h1v1h-1zM783 722h1v1h-1zM803 722h2v1h-2zM245 723h1v1h-1zM253 723h2v1h-2zM295 723h1v1h-1zM580 723h1v1h-1zM589 723h1v1h-1zM591 723h1v1h-1zM605 723h1v1h-1zM643 723h1v1h-1zM692 723h1v1h-1zM710 723h2v1h-2zM718 723h1v1h-1zM755 723h2v1h-2zM762 723h4v1h-4zM775 723h1v1h-1zM784 723h1v1h-1zM802 723h1v1h-1zM246 724h1v1h-1zM249 724h4v1h-4zM254 724h1v1h-1zM294 724h1v1h-1zM580 724h1v1h-1zM588 724h1v1h-1zM592 724h1v1h-1zM605 724h1v1h-1zM643 724h1v1h-1zM692 724h1v1h-1zM712 724h2v1h-2zM718 724h1v1h-1zM757 724h5v1h-5zM766 724h1v1h-1zM774 724h1v1h-1zM784 724h1v1h-1zM801 724h1v1h-1zM247 725h2v1h-2zM255 725h1v1h-1zM293 725h1v1h-1zM581 725h1v1h-1zM587 725h1v1h-1zM592 725h1v1h-1zM604 725h1v1h-1zM643 725h1v1h-1zM691 725h1v1h-1zM714 725h2v1h-2zM717 725h1v1h-1zM767 725h1v1h-1zM774 725h1v1h-1zM785 725h1v1h-1zM792 725h9v1h-9zM255 726h1v1h-1zM293 726h1v1h-1zM581 726h1v1h-1zM587 726h1v1h-1zM593 726h1v1h-1zM603 726h1v1h-1zM643 726h1v1h-1zM691 726h1v1h-1zM716 726h1v1h-1zM768 726h1v1h-1zM774 726h1v1h-1zM785 726h1v1h-1zM790 726h2v1h-2zM256 727h1v1h-1zM292 727h1v1h-1zM582 727h1v1h-1zM586 727h1v1h-1zM594 727h1v1h-1zM602 727h1v1h-1zM644 727h1v1h-1zM690 727h1v1h-1zM769 727h1v1h-1zM773 727h1v1h-1zM786 727h1v1h-1zM788 727h2v1h-2zM256 728h1v1h-1zM292 728h1v1h-1zM582 728h1v1h-1zM585 728h1v1h-1zM595 728h1v1h-1zM600 728h2v1h-2zM644 728h1v1h-1zM674 728h2v1h-2zM689 728h1v1h-1zM770 728h1v1h-1zM773 728h1v1h-1zM786 728h2v1h-2zM256 729h1v1h-1zM268 729h4v1h-4zM279 729h5v1h-5zM291 729h1v1h-1zM583 729h2v1h-2zM595 729h1v1h-1zM599 729h1v1h-1zM644 729h1v1h-1zM674 729h1v1h-1zM676 729h4v1h-4zM689 729h1v1h-1zM771 729h2v1h-2zM257 730h1v1h-1zM267 730h1v1h-1zM272 730h7v1h-7zM284 730h2v1h-2zM290 730h1v1h-1zM583 730h1v1h-1zM596 730h1v1h-1zM598 730h1v1h-1zM644 730h1v1h-1zM674 730h1v1h-1zM680 730h9v1h-9zM772 730h1v1h-1zM257 731h1v1h-1zM267 731h1v1h-1zM286 731h2v1h-2zM290 731h1v1h-1zM597 731h1v1h-1zM645 731h1v1h-1zM673 731h1v1h-1zM258 732h1v1h-1zM266 732h1v1h-1zM288 732h2v1h-2zM645 732h1v1h-1zM673 732h1v1h-1zM258 733h1v1h-1zM266 733h1v1h-1zM645 733h1v1h-1zM673 733h1v1h-1zM258 734h1v1h-1zM265 734h1v1h-1zM645 734h1v1h-1zM673 734h1v1h-1zM259 735h1v1h-1zM265 735h1v1h-1zM646 735h1v1h-1zM672 735h1v1h-1zM259 736h1v1h-1zM264 736h1v1h-1zM646 736h1v1h-1zM672 736h1v1h-1zM259 737h1v1h-1zM263 737h1v1h-1zM646 737h1v1h-1zM672 737h1v1h-1zM260 738h1v1h-1zM263 738h1v1h-1zM647 738h2v1h-2zM672 738h1v1h-1zM260 739h1v1h-1zM262 739h1v1h-1zM649 739h1v1h-1zM671 739h1v1h-1zM261 740h2v1h-2zM650 740h1v1h-1zM671 740h1v1h-1zM261 741h1v1h-1zM651 741h2v1h-2zM671 741h1v1h-1zM653 742h1v1h-1zM671 742h1v1h-1zM653 743h1v1h-1zM670 743h1v1h-1zM654 744h1v1h-1zM670 744h1v1h-1zM654 745h1v1h-1zM670 745h1v1h-1zM655 746h1v1h-1zM670 746h1v1h-1zM655 747h1v1h-1zM669 747h1v1h-1zM656 748h1v1h-1zM669 748h1v1h-1zM656 749h1v1h-1zM669 749h1v1h-1zM657 750h1v1h-1zM669 750h1v1h-1zM657 751h1v1h-1zM668 751h1v1h-1zM658 752h1v1h-1zM668 752h1v1h-1zM658 753h1v1h-1zM668 753h1v1h-1zM659 754h1v1h-1zM668 754h1v1h-1zM659 755h1v1h-1zM667 755h1v1h-1zM660 756h1v1h-1zM667 756h1v1h-1zM660 757h8v1h-8z" fill="#d828d8"/>
</g>
<text x="7" y="14.3" fill="#f0f0f0" style="font-size:11.6px" textLength="47.6" lengthAdjust="spacing">欧元美元</text>
<text x="55.5" y="14.3" fill="#ff7a00" style="font-size:11.6px" textLength="47.6" lengthAdjust="spacing">【日线】</text>
<g fill="none" stroke="#ff7a00" stroke-width="1"><circle cx="108.5" cy="11.5" r="4.3"/><path d="M104 11.5H113M108.5 7V16"/></g>
<text x="862.8" y="25.3" fill="#fafafa" textLength="36.9" lengthAdjust="spacingAndGlyphs">1.1961</text>
<text x="1.4" y="25.3" fill="#fafafa" text-anchor="end">1.1961</text>
<text x="862.8" y="84.3" fill="#fafafa" textLength="36.9" lengthAdjust="spacingAndGlyphs">1.1796</text>
<text x="1.4" y="84.3" fill="#fafafa" text-anchor="end">1.1796</text>
<text x="862.8" y="144.3" fill="#fafafa" textLength="36.9" lengthAdjust="spacingAndGlyphs">1.1632</text>
<text x="1.4" y="144.3" fill="#fafafa" text-anchor="end">1.1632</text>
<text x="862.8" y="204.3" fill="#fafafa" textLength="36.9" lengthAdjust="spacingAndGlyphs">1.1468</text>
<text x="1.4" y="204.3" fill="#fafafa" text-anchor="end">1.1468</text>
<text x="862.8" y="264.3" fill="#fafafa" textLength="36.9" lengthAdjust="spacingAndGlyphs">1.1303</text>
<text x="1.4" y="264.3" fill="#fafafa" text-anchor="end">1.1303</text>
<text x="862.8" y="324.3" fill="#fafafa" textLength="36.9" lengthAdjust="spacingAndGlyphs">1.1139</text>
<text x="1.4" y="324.3" fill="#fafafa" text-anchor="end">1.1139</text>
<text x="862.8" y="384.3" fill="#fafafa" textLength="36.9" lengthAdjust="spacingAndGlyphs">1.0975</text>
<text x="1.4" y="384.3" fill="#fafafa" text-anchor="end">1.0975</text>
<text x="862.8" y="444.3" fill="#fafafa" textLength="36.9" lengthAdjust="spacingAndGlyphs">1.0810</text>
<text x="1.4" y="444.3" fill="#fafafa" text-anchor="end">1.0810</text>
<text x="862.6" y="525.3" fill="#fafafa" textLength="36.9" lengthAdjust="spacingAndGlyphs">0.0182</text>
<text x="1.4" y="525.3" fill="#fafafa" text-anchor="end">0.0182</text>
<text x="862.6" y="551.3" fill="#fafafa" textLength="36.9" lengthAdjust="spacingAndGlyphs">0.0127</text>
<text x="1.4" y="551.3" fill="#fafafa" text-anchor="end">0.0127</text>
<text x="862.6" y="578.3" fill="#fafafa" textLength="36.9" lengthAdjust="spacingAndGlyphs">0.0072</text>
<text x="1.4" y="578.3" fill="#fafafa" text-anchor="end">0.0072</text>
<text x="862.6" y="604.3" fill="#fafafa" textLength="36.9" lengthAdjust="spacingAndGlyphs">0.0017</text>
<text x="1.4" y="604.3" fill="#fafafa" text-anchor="end">0.0017</text>
<text x="863" y="631.3" fill="#fafafa" textLength="40.6" lengthAdjust="spacingAndGlyphs">-0.0038</text>
<text x="1.4" y="631.3" fill="#fafafa" text-anchor="end">-0.0038</text>
<text x="862.6" y="680.3" fill="#fafafa" textLength="43.8" lengthAdjust="spacingAndGlyphs">75.4849</text>
<text x="1.4" y="680.3" fill="#fafafa" text-anchor="end">75.4849</text>
<text x="862.6" y="707.3" fill="#fafafa" textLength="43.8" lengthAdjust="spacingAndGlyphs">61.2331</text>
<text x="1.4" y="707.3" fill="#fafafa" text-anchor="end">61.2331</text>
<text x="862.6" y="734.3" fill="#fafafa" textLength="43.8" lengthAdjust="spacingAndGlyphs">46.9813</text>
<text x="1.4" y="734.3" fill="#fafafa" text-anchor="end">46.9813</text>
<rect x="0" y="16" width="1.4" height="9" fill="#8e1c1c"/>
<rect x="0" y="698" width="1.3" height="9" fill="#8e1c1c"/>
<rect x="860" y="358" width="63" height="16" fill="#000"/>
<text x="862" y="370.2" fill="#e8902a">1.1038</text>
<rect x="859.5" y="116.5" width="66" height="17" fill="#000" stroke="#f0a03c" stroke-width="1" class="ce"/>
<text x="863.3" y="129" fill="#f0a848" textLength="36.9" lengthAdjust="spacingAndGlyphs">1.1702</text>
<rect x="919" y="108" width="4" height="8" fill="#000"/>
<path d="M919 112.3 L923 108 L923 112.3 Z M918.5 116.5 L923 112 L923 116.5 Z" fill="#f0a03c"/>
<text x="823.6" y="125.3" fill="#ff1010" stroke="#ff1010" stroke-width="0.55" stroke-linejoin="round" textLength="36.8" lengthAdjust="spacing">1.1667</text>
<text x="822.8" y="149" fill="#ff1010" stroke="#ff1010" stroke-width="0.55" stroke-linejoin="round" textLength="36.8" lengthAdjust="spacing">1.1600</text>
<text x="7.4" y="514" fill="#e6ecf2" style="font-size:12.5px" textLength="155.6" lengthAdjust="spacingAndGlyphs">MACD(26,12,9) DIFF:0.0016</text>
<text x="172" y="514" fill="#d0d01c" style="font-size:12.5px" textLength="63.1" lengthAdjust="spacingAndGlyphs">DEA:0.0011</text>
<text x="244.7" y="514" fill="#d828d8" style="font-size:12.5px" textLength="77.3" lengthAdjust="spacingAndGlyphs">MACD:0.0010</text>
<text x="7.4" y="668.7" fill="#e6ecf2" style="font-size:12.5px" textLength="151.3" lengthAdjust="spacingAndGlyphs">RSI(14,14,14) RSI1:54.7863</text>
<text x="168.8" y="668.7" fill="#d0d01c" style="font-size:12.5px" textLength="72.2" lengthAdjust="spacingAndGlyphs">RSI2:54.7863</text>
<text x="250.6" y="668.7" fill="#d828d8" style="font-size:12.5px" textLength="72.9" lengthAdjust="spacingAndGlyphs">RSI3:54.7863</text>
<text x="60.5" y="771" fill="#ffffff" class="b" textLength="44" lengthAdjust="spacingAndGlyphs">2025/04</text>
<text x="214.5" y="771" fill="#ffffff" class="b" textLength="44" lengthAdjust="spacingAndGlyphs">2025/05</text>
<text x="368.5" y="771" fill="#ffffff" class="b" textLength="44" lengthAdjust="spacingAndGlyphs">2025/06</text>
<text x="515.5" y="771" fill="#ffffff" class="b" textLength="44" lengthAdjust="spacingAndGlyphs">2025/07</text>
<text x="676.5" y="771" fill="#ffffff" class="b" textLength="44" lengthAdjust="spacingAndGlyphs">2025/08</text>
<rect x="529" y="759" width="109" height="17" fill="#000"/>
<text x="530.8" y="771" fill="#ff8c1a" style="font-size:13px" textLength="64.3" lengthAdjust="spacingAndGlyphs">2025/07/03</text>
<text x="599.6" y="770.6" fill="#ff8c1a" style="font-size:12px" textLength="36.4" lengthAdjust="spacingAndGlyphs">星期四</text>
<g class="ce" fill="#0a0a0a" stroke="#a4a4a4" stroke-width="1">
<rect x="796.5" y="1.5" width="13" height="13"/>
<rect x="812.5" y="1.5" width="13" height="13"/>
<rect x="828.5" y="1.5" width="13" height="13"/>
<rect x="844.5" y="1.5" width="13" height="13"/>
</g>
<g class="ce" fill="#9a9a9a">
<rect x="798" y="7" width="3" height="2"/><rect x="802" y="7" width="2" height="2"/><rect x="805" y="7" width="3" height="2"/><rect x="802" y="3" width="2" height="3"/><rect x="802" y="10" width="2" height="3"/>
<rect x="815" y="3" width="1" height="10"/><rect x="814" y="11" width="10" height="1"/>
<rect x="814" y="4" width="3" height="1"/><rect x="822" y="10" width="1" height="3"/>
<rect x="818" y="4" width="1" height="6"/><path d="M819.5 6.5 L822 4.5 L822 8.5 Z"/>
<rect x="831" y="3" width="1" height="10"/><rect x="830" y="11" width="10" height="1"/>
<rect x="830" y="4" width="3" height="1"/><rect x="838" y="10" width="1" height="3"/>
<path d="M834 4 L839.5 7.5 L834 11 Z"/>
<rect x="847" y="3" width="3" height="1"/><rect x="847" y="12" width="3" height="1"/><rect x="847" y="3" width="1" height="10"/><rect x="849" y="3" width="1" height="10"/>
<rect x="850" y="7" width="5" height="2"/><path d="M852 4.5 L856 8 L852 11.5 Z"/>
</g>
<text x="794.2" y="751" fill="#e4e6ee" style="font-size:30.6px;letter-spacing:3.4px" textLength="101.2" lengthAdjust="spacingAndGlyphs">FX678</text>
</svg>
</body></html>
